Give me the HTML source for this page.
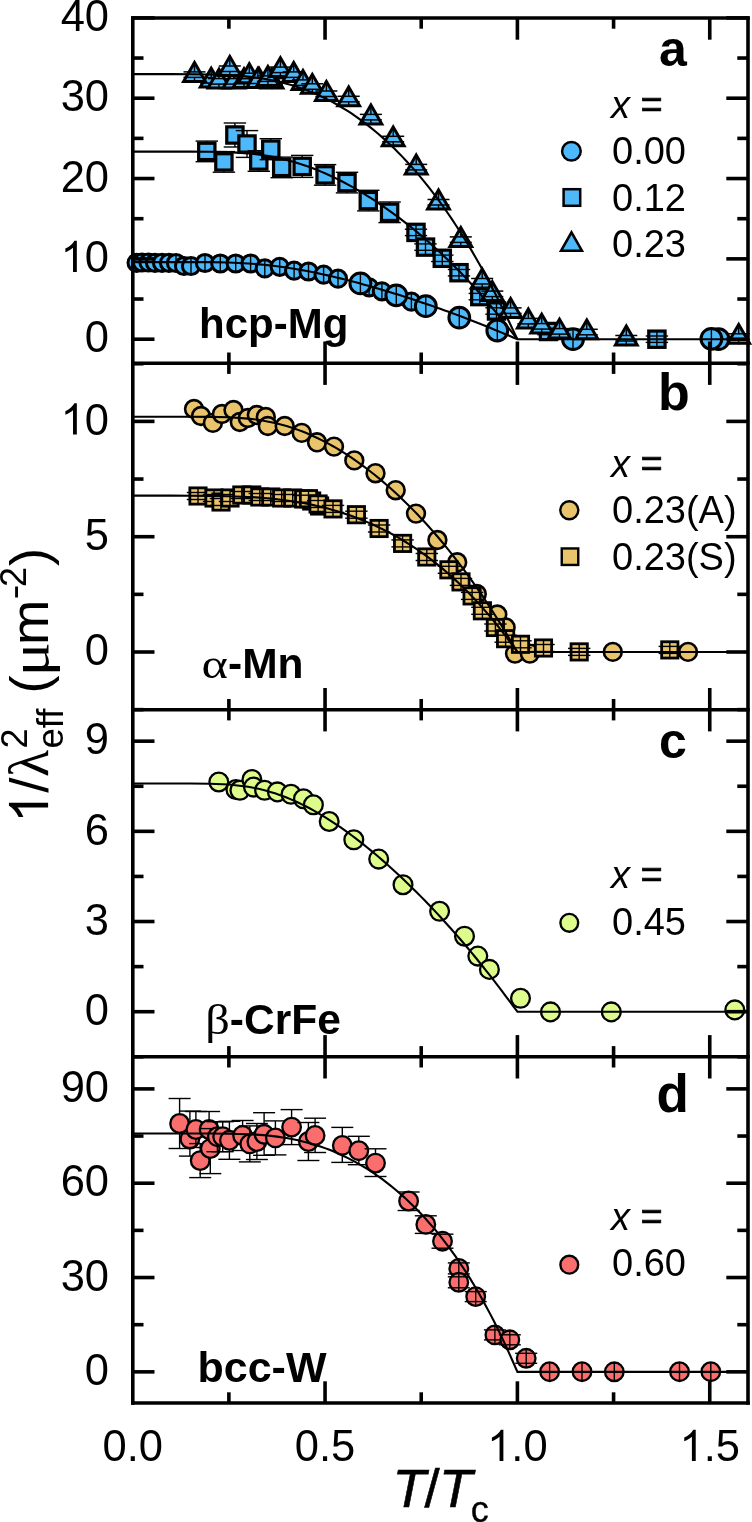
<!DOCTYPE html>
<html><head><meta charset="utf-8"><title>Figure</title><style>html,body{margin:0;padding:0;background:#fff;width:752px;height:1522px;overflow:hidden}</style></head><body>
<svg width="752" height="1522" viewBox="0 0 752 1522" style="display:block;will-change:transform">
<rect width="752" height="1522" fill="#fff"/>
<circle cx="136.6" cy="262.8" r="8.6" fill="#4DB9FA" stroke="#000" stroke-width="3"/><line x1="136.6" y1="254.2" x2="136.6" y2="271.4" stroke="#000" stroke-width="1.4"/><circle cx="142" cy="262.5" r="8.6" fill="#4DB9FA" stroke="#000" stroke-width="3"/><line x1="142" y1="253.9" x2="142" y2="271.1" stroke="#000" stroke-width="1.4"/><circle cx="148.5" cy="262.5" r="8.6" fill="#4DB9FA" stroke="#000" stroke-width="3"/><line x1="148.5" y1="253.9" x2="148.5" y2="271.1" stroke="#000" stroke-width="1.4"/><circle cx="155" cy="262.8" r="8.6" fill="#4DB9FA" stroke="#000" stroke-width="3"/><line x1="155" y1="254.2" x2="155" y2="271.4" stroke="#000" stroke-width="1.4"/><circle cx="162" cy="262.8" r="8.6" fill="#4DB9FA" stroke="#000" stroke-width="3"/><line x1="162" y1="254.2" x2="162" y2="271.4" stroke="#000" stroke-width="1.4"/><circle cx="169" cy="262.8" r="8.6" fill="#4DB9FA" stroke="#000" stroke-width="3"/><line x1="169" y1="254.2" x2="169" y2="271.4" stroke="#000" stroke-width="1.4"/><circle cx="176" cy="263" r="8.6" fill="#4DB9FA" stroke="#000" stroke-width="3"/><line x1="176" y1="254.4" x2="176" y2="271.6" stroke="#000" stroke-width="1.4"/><circle cx="184" cy="266" r="8.6" fill="#4DB9FA" stroke="#000" stroke-width="3"/><line x1="184" y1="257.4" x2="184" y2="274.6" stroke="#000" stroke-width="1.4"/><circle cx="191" cy="266" r="8.6" fill="#4DB9FA" stroke="#000" stroke-width="3"/><line x1="191" y1="257.4" x2="191" y2="274.6" stroke="#000" stroke-width="1.4"/><circle cx="205" cy="263" r="8.6" fill="#4DB9FA" stroke="#000" stroke-width="3"/><line x1="205" y1="254.4" x2="205" y2="271.6" stroke="#000" stroke-width="1.4"/><circle cx="220.3" cy="263.5" r="8.6" fill="#4DB9FA" stroke="#000" stroke-width="3"/><line x1="220.3" y1="254.9" x2="220.3" y2="272.1" stroke="#000" stroke-width="1.4"/><circle cx="235.7" cy="263.5" r="8.6" fill="#4DB9FA" stroke="#000" stroke-width="3"/><line x1="235.7" y1="254.9" x2="235.7" y2="272.1" stroke="#000" stroke-width="1.4"/><circle cx="250.6" cy="263.5" r="8.6" fill="#4DB9FA" stroke="#000" stroke-width="3"/><line x1="250.6" y1="254.9" x2="250.6" y2="272.1" stroke="#000" stroke-width="1.4"/><circle cx="264.8" cy="268.4" r="8.6" fill="#4DB9FA" stroke="#000" stroke-width="3"/><line x1="264.8" y1="259.8" x2="264.8" y2="277" stroke="#000" stroke-width="1.4"/><circle cx="279.7" cy="266.8" r="8.6" fill="#4DB9FA" stroke="#000" stroke-width="3"/><line x1="279.7" y1="258.2" x2="279.7" y2="275.4" stroke="#000" stroke-width="1.4"/><circle cx="294.1" cy="270.7" r="8.6" fill="#4DB9FA" stroke="#000" stroke-width="3"/><line x1="294.1" y1="262.1" x2="294.1" y2="279.3" stroke="#000" stroke-width="1.4"/><circle cx="308.5" cy="271.5" r="8.6" fill="#4DB9FA" stroke="#000" stroke-width="3"/><line x1="308.5" y1="262.9" x2="308.5" y2="280.1" stroke="#000" stroke-width="1.4"/><circle cx="323.6" cy="274.7" r="8.6" fill="#4DB9FA" stroke="#000" stroke-width="3"/><line x1="323.6" y1="266.1" x2="323.6" y2="283.3" stroke="#000" stroke-width="1.4"/><circle cx="338" cy="278.7" r="8.6" fill="#4DB9FA" stroke="#000" stroke-width="3"/><line x1="338" y1="270.1" x2="338" y2="287.3" stroke="#000" stroke-width="1.4"/><circle cx="369.1" cy="287.3" r="8.6" fill="#4DB9FA" stroke="#000" stroke-width="3"/><line x1="369.1" y1="278.7" x2="369.1" y2="295.9" stroke="#000" stroke-width="1.4"/><circle cx="381.9" cy="291.3" r="8.6" fill="#4DB9FA" stroke="#000" stroke-width="3"/><line x1="381.9" y1="282.7" x2="381.9" y2="299.9" stroke="#000" stroke-width="1.4"/><circle cx="411.4" cy="301.7" r="8.6" fill="#4DB9FA" stroke="#000" stroke-width="3"/><line x1="411.4" y1="293.1" x2="411.4" y2="310.3" stroke="#000" stroke-width="1.4"/><circle cx="360.4" cy="283.4" r="10.4" fill="#4DB9FA" stroke="#000" stroke-width="3"/><line x1="360.4" y1="273" x2="360.4" y2="293.8" stroke="#000" stroke-width="1.4"/><circle cx="396.3" cy="295.3" r="10.4" fill="#4DB9FA" stroke="#000" stroke-width="3"/><line x1="396.3" y1="284.9" x2="396.3" y2="305.7" stroke="#000" stroke-width="1.4"/><circle cx="425.8" cy="306.2" r="10.4" fill="#4DB9FA" stroke="#000" stroke-width="3"/><line x1="425.8" y1="295.8" x2="425.8" y2="316.6" stroke="#000" stroke-width="1.4"/><circle cx="459.3" cy="317.6" r="10.4" fill="#4DB9FA" stroke="#000" stroke-width="3"/><line x1="459.3" y1="307.2" x2="459.3" y2="328" stroke="#000" stroke-width="1.4"/><circle cx="497.3" cy="330.5" r="10.4" fill="#4DB9FA" stroke="#000" stroke-width="3"/><line x1="497.3" y1="320.1" x2="497.3" y2="340.9" stroke="#000" stroke-width="1.4"/><circle cx="573" cy="339.2" r="10.4" fill="#4DB9FA" stroke="#000" stroke-width="3"/><line x1="573" y1="328.8" x2="573" y2="349.6" stroke="#000" stroke-width="1.4"/><circle cx="718.5" cy="339.2" r="10.4" fill="#4DB9FA" stroke="#000" stroke-width="3"/><line x1="718.5" y1="328.8" x2="718.5" y2="349.6" stroke="#000" stroke-width="1.4"/><circle cx="711.4" cy="338.8" r="10.4" fill="#4DB9FA" stroke="#000" stroke-width="3"/><line x1="711.4" y1="328.4" x2="711.4" y2="349.2" stroke="#000" stroke-width="1.4"/><rect x="198.65" y="143.25" width="16.3" height="16.3" fill="#4DB9FA" stroke="#000" stroke-width="3.2"/><line x1="206.8" y1="141.1" x2="206.8" y2="143.25" stroke="#000" stroke-width="1.4"/><line x1="206.8" y1="159.55" x2="206.8" y2="161.7" stroke="#000" stroke-width="1.4"/><line x1="195.6" y1="141.1" x2="218" y2="141.1" stroke="#000" stroke-width="1.4"/><line x1="195.6" y1="161.7" x2="218" y2="161.7" stroke="#000" stroke-width="1.4"/><rect x="215.75" y="153.75" width="16.3" height="16.3" fill="#4DB9FA" stroke="#000" stroke-width="3.2"/><line x1="223.9" y1="151.6" x2="223.9" y2="153.75" stroke="#000" stroke-width="1.4"/><line x1="223.9" y1="170.05" x2="223.9" y2="172.2" stroke="#000" stroke-width="1.4"/><line x1="212.7" y1="151.6" x2="235.1" y2="151.6" stroke="#000" stroke-width="1.4"/><line x1="212.7" y1="172.2" x2="235.1" y2="172.2" stroke="#000" stroke-width="1.4"/><rect x="226.75" y="126.85" width="16.3" height="16.3" fill="#4DB9FA" stroke="#000" stroke-width="3.2"/><line x1="234.9" y1="123" x2="234.9" y2="126.85" stroke="#000" stroke-width="1.4"/><line x1="234.9" y1="143.15" x2="234.9" y2="147" stroke="#000" stroke-width="1.4"/><line x1="223.7" y1="123" x2="246.1" y2="123" stroke="#000" stroke-width="1.4"/><line x1="223.7" y1="147" x2="246.1" y2="147" stroke="#000" stroke-width="1.4"/><rect x="238.85" y="135.85" width="16.3" height="16.3" fill="#4DB9FA" stroke="#000" stroke-width="3.2"/><line x1="247" y1="130.6" x2="247" y2="135.85" stroke="#000" stroke-width="1.4"/><line x1="247" y1="152.15" x2="247" y2="157.4" stroke="#000" stroke-width="1.4"/><line x1="235.8" y1="130.6" x2="258.2" y2="130.6" stroke="#000" stroke-width="1.4"/><line x1="235.8" y1="157.4" x2="258.2" y2="157.4" stroke="#000" stroke-width="1.4"/><rect x="250.65" y="152.85" width="16.3" height="16.3" fill="#4DB9FA" stroke="#000" stroke-width="3.2"/><line x1="258.8" y1="150.7" x2="258.8" y2="152.85" stroke="#000" stroke-width="1.4"/><line x1="258.8" y1="169.15" x2="258.8" y2="171.3" stroke="#000" stroke-width="1.4"/><line x1="247.6" y1="150.7" x2="270" y2="150.7" stroke="#000" stroke-width="1.4"/><line x1="247.6" y1="171.3" x2="270" y2="171.3" stroke="#000" stroke-width="1.4"/><rect x="262.65" y="141.05" width="16.3" height="16.3" fill="#4DB9FA" stroke="#000" stroke-width="3.2"/><line x1="270.8" y1="138.7" x2="270.8" y2="141.05" stroke="#000" stroke-width="1.4"/><line x1="270.8" y1="157.35" x2="270.8" y2="159.7" stroke="#000" stroke-width="1.4"/><line x1="259.6" y1="138.7" x2="282" y2="138.7" stroke="#000" stroke-width="1.4"/><line x1="259.6" y1="159.7" x2="282" y2="159.7" stroke="#000" stroke-width="1.4"/><rect x="273.55" y="159.25" width="16.3" height="16.3" fill="#4DB9FA" stroke="#000" stroke-width="3.2"/><line x1="281.7" y1="157.1" x2="281.7" y2="159.25" stroke="#000" stroke-width="1.4"/><line x1="281.7" y1="175.55" x2="281.7" y2="177.7" stroke="#000" stroke-width="1.4"/><line x1="270.5" y1="157.1" x2="292.9" y2="157.1" stroke="#000" stroke-width="1.4"/><line x1="270.5" y1="177.7" x2="292.9" y2="177.7" stroke="#000" stroke-width="1.4"/><rect x="294.05" y="158.25" width="16.3" height="16.3" fill="#4DB9FA" stroke="#000" stroke-width="3.2"/><line x1="302.2" y1="155.4" x2="302.2" y2="158.25" stroke="#000" stroke-width="1.4"/><line x1="302.2" y1="174.55" x2="302.2" y2="177.4" stroke="#000" stroke-width="1.4"/><line x1="291" y1="155.4" x2="313.4" y2="155.4" stroke="#000" stroke-width="1.4"/><line x1="291" y1="177.4" x2="313.4" y2="177.4" stroke="#000" stroke-width="1.4"/><rect x="316.95" y="166.75" width="16.3" height="16.3" fill="#4DB9FA" stroke="#000" stroke-width="3.2"/><line x1="325.1" y1="164.6" x2="325.1" y2="166.75" stroke="#000" stroke-width="1.4"/><line x1="325.1" y1="183.05" x2="325.1" y2="185.2" stroke="#000" stroke-width="1.4"/><line x1="313.9" y1="164.6" x2="336.3" y2="164.6" stroke="#000" stroke-width="1.4"/><line x1="313.9" y1="185.2" x2="336.3" y2="185.2" stroke="#000" stroke-width="1.4"/><rect x="338.85" y="174.45" width="16.3" height="16.3" fill="#4DB9FA" stroke="#000" stroke-width="3.2"/><line x1="347" y1="172.3" x2="347" y2="174.45" stroke="#000" stroke-width="1.4"/><line x1="347" y1="190.75" x2="347" y2="192.9" stroke="#000" stroke-width="1.4"/><line x1="335.8" y1="172.3" x2="358.2" y2="172.3" stroke="#000" stroke-width="1.4"/><line x1="335.8" y1="192.9" x2="358.2" y2="192.9" stroke="#000" stroke-width="1.4"/><rect x="360.15" y="192.45" width="16.3" height="16.3" fill="#4DB9FA" stroke="#000" stroke-width="3.2"/><line x1="368.3" y1="190.3" x2="368.3" y2="192.45" stroke="#000" stroke-width="1.4"/><line x1="368.3" y1="208.75" x2="368.3" y2="210.9" stroke="#000" stroke-width="1.4"/><line x1="357.1" y1="190.3" x2="379.5" y2="190.3" stroke="#000" stroke-width="1.4"/><line x1="357.1" y1="210.9" x2="379.5" y2="210.9" stroke="#000" stroke-width="1.4"/><rect x="381.45" y="204.15" width="16.3" height="16.3" fill="#4DB9FA" stroke="#000" stroke-width="3.2"/><line x1="389.6" y1="202" x2="389.6" y2="204.15" stroke="#000" stroke-width="1.4"/><line x1="389.6" y1="220.45" x2="389.6" y2="222.6" stroke="#000" stroke-width="1.4"/><line x1="378.4" y1="202" x2="400.8" y2="202" stroke="#000" stroke-width="1.4"/><line x1="378.4" y1="222.6" x2="400.8" y2="222.6" stroke="#000" stroke-width="1.4"/><rect x="407.85" y="224.25" width="16.3" height="16.3" fill="#4DB9FA" stroke="#000" stroke-width="3.2"/><line x1="416" y1="224.25" x2="416" y2="240.55" stroke="#000" stroke-width="1.4"/><line x1="404.8" y1="229.2" x2="427.2" y2="229.2" stroke="#000" stroke-width="1.4"/><line x1="404.8" y1="235.6" x2="427.2" y2="235.6" stroke="#000" stroke-width="1.4"/><rect x="417.35" y="238.95" width="16.3" height="16.3" fill="#4DB9FA" stroke="#000" stroke-width="3.2"/><line x1="425.5" y1="238.95" x2="425.5" y2="255.25" stroke="#000" stroke-width="1.4"/><line x1="414.3" y1="243.9" x2="436.7" y2="243.9" stroke="#000" stroke-width="1.4"/><line x1="414.3" y1="250.3" x2="436.7" y2="250.3" stroke="#000" stroke-width="1.4"/><rect x="434.15" y="250.15" width="16.3" height="16.3" fill="#4DB9FA" stroke="#000" stroke-width="3.2"/><line x1="442.3" y1="250.15" x2="442.3" y2="266.45" stroke="#000" stroke-width="1.4"/><line x1="431.1" y1="255.1" x2="453.5" y2="255.1" stroke="#000" stroke-width="1.4"/><line x1="431.1" y1="261.5" x2="453.5" y2="261.5" stroke="#000" stroke-width="1.4"/><rect x="450.85" y="264.55" width="16.3" height="16.3" fill="#4DB9FA" stroke="#000" stroke-width="3.2"/><line x1="459" y1="264.55" x2="459" y2="280.85" stroke="#000" stroke-width="1.4"/><line x1="447.8" y1="269.5" x2="470.2" y2="269.5" stroke="#000" stroke-width="1.4"/><line x1="447.8" y1="275.9" x2="470.2" y2="275.9" stroke="#000" stroke-width="1.4"/><rect x="471.65" y="288.45" width="16.3" height="16.3" fill="#4DB9FA" stroke="#000" stroke-width="3.2"/><line x1="479.8" y1="288.45" x2="479.8" y2="304.75" stroke="#000" stroke-width="1.4"/><line x1="468.6" y1="293.4" x2="491" y2="293.4" stroke="#000" stroke-width="1.4"/><line x1="468.6" y1="299.8" x2="491" y2="299.8" stroke="#000" stroke-width="1.4"/><rect x="488.35" y="302.85" width="16.3" height="16.3" fill="#4DB9FA" stroke="#000" stroke-width="3.2"/><line x1="496.5" y1="302.85" x2="496.5" y2="319.15" stroke="#000" stroke-width="1.4"/><line x1="485.3" y1="307.8" x2="507.7" y2="307.8" stroke="#000" stroke-width="1.4"/><line x1="485.3" y1="314.2" x2="507.7" y2="314.2" stroke="#000" stroke-width="1.4"/><rect x="540.35" y="323.35" width="16.3" height="16.3" fill="#4DB9FA" stroke="#000" stroke-width="3.2"/><line x1="548.5" y1="323.35" x2="548.5" y2="339.65" stroke="#000" stroke-width="1.4"/><line x1="537.3" y1="328.3" x2="559.7" y2="328.3" stroke="#000" stroke-width="1.4"/><line x1="537.3" y1="334.7" x2="559.7" y2="334.7" stroke="#000" stroke-width="1.4"/><rect x="648.75" y="331.05" width="16.3" height="16.3" fill="#4DB9FA" stroke="#000" stroke-width="3.2"/><line x1="656.9" y1="331.05" x2="656.9" y2="347.35" stroke="#000" stroke-width="1.4"/><line x1="645.7" y1="336" x2="668.1" y2="336" stroke="#000" stroke-width="1.4"/><line x1="645.7" y1="342.4" x2="668.1" y2="342.4" stroke="#000" stroke-width="1.4"/><path d="M211.2 68.2L222.1 87.08L200.3 87.08Z" fill="#4DB9FA" stroke="#000" stroke-width="3" stroke-linejoin="miter"/><line x1="211.2" y1="71.29" x2="211.2" y2="77.79" stroke="#000" stroke-width="1.4"/><line x1="211.2" y1="82.79" x2="211.2" y2="88.29" stroke="#000" stroke-width="1.4"/><line x1="200.2" y1="77.59" x2="222.2" y2="77.59" stroke="#000" stroke-width="1.5"/><line x1="200.2" y1="83.09" x2="222.2" y2="83.09" stroke="#000" stroke-width="1.5"/><path d="M219 69.2L229.9 88.08L208.1 88.08Z" fill="#4DB9FA" stroke="#000" stroke-width="3" stroke-linejoin="miter"/><line x1="219" y1="72.29" x2="219" y2="78.79" stroke="#000" stroke-width="1.4"/><line x1="219" y1="83.79" x2="219" y2="89.29" stroke="#000" stroke-width="1.4"/><line x1="208" y1="78.59" x2="230" y2="78.59" stroke="#000" stroke-width="1.5"/><line x1="208" y1="84.09" x2="230" y2="84.09" stroke="#000" stroke-width="1.5"/><path d="M234 69.2L244.9 88.08L223.1 88.08Z" fill="#4DB9FA" stroke="#000" stroke-width="3" stroke-linejoin="miter"/><line x1="234" y1="72.29" x2="234" y2="78.79" stroke="#000" stroke-width="1.4"/><line x1="234" y1="83.79" x2="234" y2="89.29" stroke="#000" stroke-width="1.4"/><line x1="223" y1="78.59" x2="245" y2="78.59" stroke="#000" stroke-width="1.5"/><line x1="223" y1="84.09" x2="245" y2="84.09" stroke="#000" stroke-width="1.5"/><path d="M244 68.7L254.9 87.58L233.1 87.58Z" fill="#4DB9FA" stroke="#000" stroke-width="3" stroke-linejoin="miter"/><line x1="244" y1="71.79" x2="244" y2="78.29" stroke="#000" stroke-width="1.4"/><line x1="244" y1="83.29" x2="244" y2="88.79" stroke="#000" stroke-width="1.4"/><line x1="233" y1="78.09" x2="255" y2="78.09" stroke="#000" stroke-width="1.5"/><line x1="233" y1="83.59" x2="255" y2="83.59" stroke="#000" stroke-width="1.5"/><path d="M259 68.2L269.9 87.08L248.1 87.08Z" fill="#4DB9FA" stroke="#000" stroke-width="3" stroke-linejoin="miter"/><line x1="259" y1="71.29" x2="259" y2="77.79" stroke="#000" stroke-width="1.4"/><line x1="259" y1="82.79" x2="259" y2="88.29" stroke="#000" stroke-width="1.4"/><line x1="248" y1="77.59" x2="270" y2="77.59" stroke="#000" stroke-width="1.5"/><line x1="248" y1="83.09" x2="270" y2="83.09" stroke="#000" stroke-width="1.5"/><path d="M272 69.2L282.9 88.08L261.1 88.08Z" fill="#4DB9FA" stroke="#000" stroke-width="3" stroke-linejoin="miter"/><line x1="272" y1="72.29" x2="272" y2="78.79" stroke="#000" stroke-width="1.4"/><line x1="272" y1="83.79" x2="272" y2="89.29" stroke="#000" stroke-width="1.4"/><line x1="261" y1="78.59" x2="283" y2="78.59" stroke="#000" stroke-width="1.5"/><line x1="261" y1="84.09" x2="283" y2="84.09" stroke="#000" stroke-width="1.5"/><path d="M194.5 62.5L205.4 81.38L183.6 81.38Z" fill="#4DB9FA" stroke="#000" stroke-width="3" stroke-linejoin="miter"/><line x1="194.5" y1="65.59" x2="194.5" y2="72.09" stroke="#000" stroke-width="1.4"/><line x1="194.5" y1="77.09" x2="194.5" y2="82.59" stroke="#000" stroke-width="1.4"/><line x1="183.5" y1="71.89" x2="205.5" y2="71.89" stroke="#000" stroke-width="1.5"/><line x1="183.5" y1="77.39" x2="205.5" y2="77.39" stroke="#000" stroke-width="1.5"/><path d="M229.8 56.6L240.7 75.48L218.9 75.48Z" fill="#4DB9FA" stroke="#000" stroke-width="3" stroke-linejoin="miter"/><line x1="229.8" y1="59.69" x2="229.8" y2="66.19" stroke="#000" stroke-width="1.4"/><line x1="229.8" y1="71.19" x2="229.8" y2="76.69" stroke="#000" stroke-width="1.4"/><line x1="218.8" y1="65.99" x2="240.8" y2="65.99" stroke="#000" stroke-width="1.5"/><line x1="218.8" y1="71.49" x2="240.8" y2="71.49" stroke="#000" stroke-width="1.5"/><path d="M249.3 63.8L260.2 82.68L238.4 82.68Z" fill="#4DB9FA" stroke="#000" stroke-width="3" stroke-linejoin="miter"/><line x1="249.3" y1="66.89" x2="249.3" y2="73.39" stroke="#000" stroke-width="1.4"/><line x1="249.3" y1="78.39" x2="249.3" y2="83.89" stroke="#000" stroke-width="1.4"/><line x1="238.3" y1="73.19" x2="260.3" y2="73.19" stroke="#000" stroke-width="1.5"/><line x1="238.3" y1="78.69" x2="260.3" y2="78.69" stroke="#000" stroke-width="1.5"/><path d="M257.8 68.6L268.7 87.48L246.9 87.48Z" fill="#4DB9FA" stroke="#000" stroke-width="3" stroke-linejoin="miter"/><line x1="257.8" y1="71.69" x2="257.8" y2="78.19" stroke="#000" stroke-width="1.4"/><line x1="257.8" y1="83.19" x2="257.8" y2="88.69" stroke="#000" stroke-width="1.4"/><line x1="246.8" y1="77.99" x2="268.8" y2="77.99" stroke="#000" stroke-width="1.5"/><line x1="246.8" y1="83.49" x2="268.8" y2="83.49" stroke="#000" stroke-width="1.5"/><path d="M267.9 66.5L278.8 85.38L257 85.38Z" fill="#4DB9FA" stroke="#000" stroke-width="3" stroke-linejoin="miter"/><line x1="267.9" y1="69.59" x2="267.9" y2="76.09" stroke="#000" stroke-width="1.4"/><line x1="267.9" y1="81.09" x2="267.9" y2="86.59" stroke="#000" stroke-width="1.4"/><line x1="256.9" y1="75.89" x2="278.9" y2="75.89" stroke="#000" stroke-width="1.5"/><line x1="256.9" y1="81.39" x2="278.9" y2="81.39" stroke="#000" stroke-width="1.5"/><path d="M280.4 57.7L291.3 76.58L269.5 76.58Z" fill="#4DB9FA" stroke="#000" stroke-width="3" stroke-linejoin="miter"/><line x1="280.4" y1="60.79" x2="280.4" y2="67.29" stroke="#000" stroke-width="1.4"/><line x1="280.4" y1="72.29" x2="280.4" y2="77.79" stroke="#000" stroke-width="1.4"/><line x1="269.4" y1="67.09" x2="291.4" y2="67.09" stroke="#000" stroke-width="1.5"/><line x1="269.4" y1="72.59" x2="291.4" y2="72.59" stroke="#000" stroke-width="1.5"/><path d="M293.7 62.5L304.6 81.38L282.8 81.38Z" fill="#4DB9FA" stroke="#000" stroke-width="3" stroke-linejoin="miter"/><line x1="293.7" y1="65.59" x2="293.7" y2="72.09" stroke="#000" stroke-width="1.4"/><line x1="293.7" y1="77.09" x2="293.7" y2="82.59" stroke="#000" stroke-width="1.4"/><line x1="282.7" y1="71.89" x2="304.7" y2="71.89" stroke="#000" stroke-width="1.5"/><line x1="282.7" y1="77.39" x2="304.7" y2="77.39" stroke="#000" stroke-width="1.5"/><path d="M303 70.5L313.9 89.38L292.1 89.38Z" fill="#4DB9FA" stroke="#000" stroke-width="3" stroke-linejoin="miter"/><line x1="303" y1="73.59" x2="303" y2="80.09" stroke="#000" stroke-width="1.4"/><line x1="303" y1="85.09" x2="303" y2="90.59" stroke="#000" stroke-width="1.4"/><line x1="292" y1="79.89" x2="314" y2="79.89" stroke="#000" stroke-width="1.5"/><line x1="292" y1="85.39" x2="314" y2="85.39" stroke="#000" stroke-width="1.5"/><path d="M312.3 74.4L323.2 93.28L301.4 93.28Z" fill="#4DB9FA" stroke="#000" stroke-width="3" stroke-linejoin="miter"/><line x1="312.3" y1="77.49" x2="312.3" y2="83.99" stroke="#000" stroke-width="1.4"/><line x1="312.3" y1="88.99" x2="312.3" y2="94.49" stroke="#000" stroke-width="1.4"/><line x1="301.3" y1="83.79" x2="323.3" y2="83.79" stroke="#000" stroke-width="1.5"/><line x1="301.3" y1="89.29" x2="323.3" y2="89.29" stroke="#000" stroke-width="1.5"/><path d="M326.4 81.6L337.3 100.48L315.5 100.48Z" fill="#4DB9FA" stroke="#000" stroke-width="3" stroke-linejoin="miter"/><line x1="326.4" y1="84.69" x2="326.4" y2="91.19" stroke="#000" stroke-width="1.4"/><line x1="326.4" y1="96.19" x2="326.4" y2="101.69" stroke="#000" stroke-width="1.4"/><line x1="315.4" y1="90.99" x2="337.4" y2="90.99" stroke="#000" stroke-width="1.5"/><line x1="315.4" y1="96.49" x2="337.4" y2="96.49" stroke="#000" stroke-width="1.5"/><path d="M348.7 86.9L359.6 105.78L337.8 105.78Z" fill="#4DB9FA" stroke="#000" stroke-width="3" stroke-linejoin="miter"/><line x1="348.7" y1="89.99" x2="348.7" y2="96.49" stroke="#000" stroke-width="1.4"/><line x1="348.7" y1="101.49" x2="348.7" y2="106.99" stroke="#000" stroke-width="1.4"/><line x1="337.7" y1="96.29" x2="359.7" y2="96.29" stroke="#000" stroke-width="1.5"/><line x1="337.7" y1="101.79" x2="359.7" y2="101.79" stroke="#000" stroke-width="1.5"/><path d="M370.9 105L381.8 123.88L360 123.88Z" fill="#4DB9FA" stroke="#000" stroke-width="3" stroke-linejoin="miter"/><line x1="370.9" y1="108.09" x2="370.9" y2="114.59" stroke="#000" stroke-width="1.4"/><line x1="370.9" y1="119.59" x2="370.9" y2="125.09" stroke="#000" stroke-width="1.4"/><line x1="359.9" y1="114.39" x2="381.9" y2="114.39" stroke="#000" stroke-width="1.5"/><line x1="359.9" y1="119.89" x2="381.9" y2="119.89" stroke="#000" stroke-width="1.5"/><path d="M393.2 126.9L404.1 145.78L382.3 145.78Z" fill="#4DB9FA" stroke="#000" stroke-width="3" stroke-linejoin="miter"/><line x1="393.2" y1="129.99" x2="393.2" y2="136.49" stroke="#000" stroke-width="1.4"/><line x1="393.2" y1="141.49" x2="393.2" y2="146.99" stroke="#000" stroke-width="1.4"/><line x1="382.2" y1="136.29" x2="404.2" y2="136.29" stroke="#000" stroke-width="1.5"/><line x1="382.2" y1="141.79" x2="404.2" y2="141.79" stroke="#000" stroke-width="1.5"/><path d="M416.2 155L427.1 173.88L405.3 173.88Z" fill="#4DB9FA" stroke="#000" stroke-width="3" stroke-linejoin="miter"/><line x1="416.2" y1="158.09" x2="416.2" y2="164.59" stroke="#000" stroke-width="1.4"/><line x1="416.2" y1="169.59" x2="416.2" y2="175.09" stroke="#000" stroke-width="1.4"/><line x1="405.2" y1="164.39" x2="427.2" y2="164.39" stroke="#000" stroke-width="1.5"/><line x1="405.2" y1="169.89" x2="427.2" y2="169.89" stroke="#000" stroke-width="1.5"/><path d="M438.5 190.1L449.4 208.98L427.6 208.98Z" fill="#4DB9FA" stroke="#000" stroke-width="3" stroke-linejoin="miter"/><line x1="438.5" y1="193.19" x2="438.5" y2="199.69" stroke="#000" stroke-width="1.4"/><line x1="438.5" y1="204.69" x2="438.5" y2="210.19" stroke="#000" stroke-width="1.4"/><line x1="427.5" y1="199.49" x2="449.5" y2="199.49" stroke="#000" stroke-width="1.5"/><line x1="427.5" y1="204.99" x2="449.5" y2="204.99" stroke="#000" stroke-width="1.5"/><path d="M460.8 227.5L471.7 246.38L449.9 246.38Z" fill="#4DB9FA" stroke="#000" stroke-width="3" stroke-linejoin="miter"/><line x1="460.8" y1="230.59" x2="460.8" y2="237.09" stroke="#000" stroke-width="1.4"/><line x1="460.8" y1="242.09" x2="460.8" y2="247.59" stroke="#000" stroke-width="1.4"/><line x1="449.8" y1="236.89" x2="471.8" y2="236.89" stroke="#000" stroke-width="1.5"/><line x1="449.8" y1="242.39" x2="471.8" y2="242.39" stroke="#000" stroke-width="1.5"/><path d="M482.2 269.1L493.1 287.98L471.3 287.98Z" fill="#4DB9FA" stroke="#000" stroke-width="3" stroke-linejoin="miter"/><line x1="482.2" y1="272.19" x2="482.2" y2="278.69" stroke="#000" stroke-width="1.4"/><line x1="482.2" y1="283.69" x2="482.2" y2="289.19" stroke="#000" stroke-width="1.4"/><line x1="471.2" y1="278.49" x2="493.2" y2="278.49" stroke="#000" stroke-width="1.5"/><line x1="471.2" y1="283.99" x2="493.2" y2="283.99" stroke="#000" stroke-width="1.5"/><path d="M492.3 281.7L503.2 300.58L481.4 300.58Z" fill="#4DB9FA" stroke="#000" stroke-width="3" stroke-linejoin="miter"/><line x1="492.3" y1="284.79" x2="492.3" y2="291.29" stroke="#000" stroke-width="1.4"/><line x1="492.3" y1="296.29" x2="492.3" y2="301.79" stroke="#000" stroke-width="1.4"/><line x1="481.3" y1="291.09" x2="503.3" y2="291.09" stroke="#000" stroke-width="1.5"/><line x1="481.3" y1="296.59" x2="503.3" y2="296.59" stroke="#000" stroke-width="1.5"/><path d="M510.6 298.5L521.5 317.38L499.7 317.38Z" fill="#4DB9FA" stroke="#000" stroke-width="3" stroke-linejoin="miter"/><line x1="510.6" y1="301.59" x2="510.6" y2="308.09" stroke="#000" stroke-width="1.4"/><line x1="510.6" y1="313.09" x2="510.6" y2="318.59" stroke="#000" stroke-width="1.4"/><line x1="499.6" y1="307.89" x2="521.6" y2="307.89" stroke="#000" stroke-width="1.5"/><line x1="499.6" y1="313.39" x2="521.6" y2="313.39" stroke="#000" stroke-width="1.5"/><path d="M528.3 309L539.2 327.88L517.4 327.88Z" fill="#4DB9FA" stroke="#000" stroke-width="3" stroke-linejoin="miter"/><line x1="528.3" y1="312.09" x2="528.3" y2="318.59" stroke="#000" stroke-width="1.4"/><line x1="528.3" y1="323.59" x2="528.3" y2="329.09" stroke="#000" stroke-width="1.4"/><line x1="517.3" y1="318.39" x2="539.3" y2="318.39" stroke="#000" stroke-width="1.5"/><line x1="517.3" y1="323.89" x2="539.3" y2="323.89" stroke="#000" stroke-width="1.5"/><path d="M541.7 314.2L552.6 333.08L530.8 333.08Z" fill="#4DB9FA" stroke="#000" stroke-width="3" stroke-linejoin="miter"/><line x1="541.7" y1="317.29" x2="541.7" y2="323.79" stroke="#000" stroke-width="1.4"/><line x1="541.7" y1="328.79" x2="541.7" y2="334.29" stroke="#000" stroke-width="1.4"/><line x1="530.7" y1="323.59" x2="552.7" y2="323.59" stroke="#000" stroke-width="1.5"/><line x1="530.7" y1="329.09" x2="552.7" y2="329.09" stroke="#000" stroke-width="1.5"/><path d="M559.5 319.2L570.4 338.08L548.6 338.08Z" fill="#4DB9FA" stroke="#000" stroke-width="3" stroke-linejoin="miter"/><line x1="559.5" y1="322.29" x2="559.5" y2="328.79" stroke="#000" stroke-width="1.4"/><line x1="559.5" y1="333.79" x2="559.5" y2="339.29" stroke="#000" stroke-width="1.4"/><line x1="548.5" y1="328.59" x2="570.5" y2="328.59" stroke="#000" stroke-width="1.5"/><line x1="548.5" y1="334.09" x2="570.5" y2="334.09" stroke="#000" stroke-width="1.5"/><path d="M586.8 319.9L597.7 338.78L575.9 338.78Z" fill="#4DB9FA" stroke="#000" stroke-width="3" stroke-linejoin="miter"/><line x1="586.8" y1="322.99" x2="586.8" y2="329.49" stroke="#000" stroke-width="1.4"/><line x1="586.8" y1="334.49" x2="586.8" y2="339.99" stroke="#000" stroke-width="1.4"/><line x1="575.8" y1="329.29" x2="597.8" y2="329.29" stroke="#000" stroke-width="1.5"/><line x1="575.8" y1="334.79" x2="597.8" y2="334.79" stroke="#000" stroke-width="1.5"/><path d="M626.3 326.1L637.2 344.98L615.4 344.98Z" fill="#4DB9FA" stroke="#000" stroke-width="3" stroke-linejoin="miter"/><line x1="626.3" y1="329.19" x2="626.3" y2="335.69" stroke="#000" stroke-width="1.4"/><line x1="626.3" y1="340.69" x2="626.3" y2="346.19" stroke="#000" stroke-width="1.4"/><line x1="615.3" y1="335.49" x2="637.3" y2="335.49" stroke="#000" stroke-width="1.5"/><line x1="615.3" y1="340.99" x2="637.3" y2="340.99" stroke="#000" stroke-width="1.5"/><path d="M738.7 324.4L749.6 343.28L727.8 343.28Z" fill="#4DB9FA" stroke="#000" stroke-width="3" stroke-linejoin="miter"/><line x1="738.7" y1="327.49" x2="738.7" y2="333.99" stroke="#000" stroke-width="1.4"/><line x1="738.7" y1="338.99" x2="738.7" y2="344.49" stroke="#000" stroke-width="1.4"/><line x1="727.7" y1="333.79" x2="749.7" y2="333.79" stroke="#000" stroke-width="1.5"/><line x1="727.7" y1="339.29" x2="749.7" y2="339.29" stroke="#000" stroke-width="1.5"/>
<path d="M133.8 262.08 L151.94 262.08 L171.17 262.08 L190.4 262.09 L209.64 262.17 L228.87 262.53 L248.11 263.45 L251.96 263.72 L255.8 264.02 L259.64 264.35 L263.48 264.72 L267.32 265.12 L271.16 265.54 L275.01 266.01 L278.85 266.5 L282.69 267.03 L286.53 267.58 L290.37 268.17 L294.21 268.79 L298.05 269.44 L301.9 270.12 L305.74 270.83 L309.58 271.57 L313.42 272.33 L317.26 273.12 L321.1 273.93 L324.94 274.77 L328.79 275.64 L332.63 276.53 L336.47 277.44 L340.31 278.37 L344.15 279.32 L347.99 280.3 L351.83 281.29 L355.68 282.31 L359.52 283.34 L363.36 284.39 L367.2 285.46 L371.04 286.55 L374.88 287.66 L378.72 288.78 L382.57 289.91 L386.41 291.07 L390.25 292.24 L394.09 293.42 L397.93 294.62 L401.77 295.84 L405.61 297.07 L409.46 298.31 L413.3 299.57 L417.14 300.85 L420.98 302.14 L424.82 303.44 L428.66 304.76 L432.5 306.09 L436.35 307.43 L440.19 308.8 L444.03 310.17 L447.87 311.56 L451.71 312.97 L455.55 314.39 L459.39 315.82 L463.24 317.27 L467.08 318.73 L470.92 320.21 L474.76 321.71 L478.6 323.22 L482.44 324.75 L486.28 326.29 L490.13 327.84 L493.97 329.42 L497.81 331 L501.65 332.6 L505.49 334.21 L509.33 335.82 L513.17 337.45 L517.02 339.05 L517.4 339.2 L747.22 339.2" fill="none" stroke="#000" stroke-width="2.1"/>
<path d="M133.8 151.63 L151.94 151.63 L171.17 151.63 L190.4 151.63 L209.64 151.7 L228.87 152.11 L248.11 153.33 L251.96 153.71 L255.8 154.15 L259.64 154.65 L263.48 155.2 L267.32 155.82 L271.16 156.5 L275.01 157.25 L278.85 158.07 L282.69 158.95 L286.53 159.9 L290.37 160.93 L294.21 162.02 L298.05 163.18 L301.9 164.41 L305.74 165.72 L309.58 167.09 L313.42 168.53 L317.26 170.04 L321.1 171.63 L324.94 173.28 L328.79 174.99 L332.63 176.78 L336.47 178.63 L340.31 180.55 L344.15 182.53 L347.99 184.58 L351.83 186.7 L355.68 188.88 L359.52 191.12 L363.36 193.42 L367.2 195.79 L371.04 198.22 L374.88 200.71 L378.72 203.26 L382.57 205.88 L386.41 208.55 L390.25 211.29 L394.09 214.09 L397.93 216.95 L401.77 219.87 L405.61 222.85 L409.46 225.9 L413.3 229 L417.14 232.17 L420.98 235.4 L424.82 238.7 L428.66 242.06 L432.5 245.48 L436.35 248.97 L440.19 252.53 L444.03 256.16 L447.87 259.85 L451.71 263.61 L455.55 267.44 L459.39 271.34 L463.24 275.32 L467.08 279.37 L470.92 283.49 L474.76 287.69 L478.6 291.96 L482.44 296.32 L486.28 300.74 L490.13 305.25 L493.97 309.84 L497.81 314.5 L501.65 319.24 L505.49 324.05 L509.33 328.92 L513.17 333.83 L517.02 338.73 L517.4 339.2" fill="none" stroke="#000" stroke-width="2.1"/>
<path d="M133.8 74.11 L151.94 74.11 L171.17 74.12 L190.4 74.18 L209.64 74.44 L228.87 75.14 L248.11 76.65 L251.96 77.09 L255.8 77.58 L259.64 78.12 L263.48 78.72 L267.32 79.38 L271.16 80.1 L275.01 80.89 L278.85 81.75 L282.69 82.69 L286.53 83.69 L290.37 84.77 L294.21 85.93 L298.05 87.16 L301.9 88.48 L305.74 89.88 L309.58 91.37 L313.42 92.94 L317.26 94.6 L321.1 96.35 L324.94 98.19 L328.79 100.13 L332.63 102.15 L336.47 104.28 L340.31 106.49 L344.15 108.81 L347.99 111.22 L351.83 113.74 L355.68 116.35 L359.52 119.07 L363.36 121.89 L367.2 124.82 L371.04 127.85 L374.88 130.99 L378.72 134.24 L382.57 137.6 L386.41 141.07 L390.25 144.66 L394.09 148.36 L397.93 152.18 L401.77 156.12 L405.61 160.17 L409.46 164.35 L413.3 168.66 L417.14 173.08 L420.98 177.64 L424.82 182.32 L428.66 187.14 L432.5 192.09 L436.35 197.18 L440.19 202.4 L444.03 207.76 L447.87 213.27 L451.71 218.92 L455.55 224.71 L459.39 230.66 L463.24 236.75 L467.08 243 L470.92 249.41 L474.76 255.97 L478.6 262.69 L482.44 269.57 L486.28 276.62 L490.13 283.82 L493.97 291.19 L497.81 298.73 L501.65 306.42 L505.49 314.26 L509.33 322.24 L513.17 330.33 L517.02 338.42 L517.4 339.2" fill="none" stroke="#000" stroke-width="2.1"/>
<circle cx="194" cy="409" r="8.9" fill="#EAC46A" stroke="#000" stroke-width="2.6"/><circle cx="201" cy="416" r="8.9" fill="#EAC46A" stroke="#000" stroke-width="2.6"/><circle cx="212.9" cy="422.9" r="8.9" fill="#EAC46A" stroke="#000" stroke-width="2.6"/><circle cx="221.9" cy="414" r="8.9" fill="#EAC46A" stroke="#000" stroke-width="2.6"/><circle cx="233.5" cy="410" r="8.9" fill="#EAC46A" stroke="#000" stroke-width="2.6"/><circle cx="239.8" cy="422" r="8.9" fill="#EAC46A" stroke="#000" stroke-width="2.6"/><circle cx="247.8" cy="418" r="8.9" fill="#EAC46A" stroke="#000" stroke-width="2.6"/><circle cx="256.8" cy="415" r="8.9" fill="#EAC46A" stroke="#000" stroke-width="2.6"/><circle cx="265.8" cy="417" r="8.9" fill="#EAC46A" stroke="#000" stroke-width="2.6"/><circle cx="267.8" cy="426" r="8.9" fill="#EAC46A" stroke="#000" stroke-width="2.6"/><circle cx="284.7" cy="426" r="8.9" fill="#EAC46A" stroke="#000" stroke-width="2.6"/><circle cx="301.7" cy="432.9" r="8.9" fill="#EAC46A" stroke="#000" stroke-width="2.6"/><circle cx="317" cy="442.3" r="8.9" fill="#EAC46A" stroke="#000" stroke-width="2.6"/><circle cx="334" cy="446.6" r="8.9" fill="#EAC46A" stroke="#000" stroke-width="2.6"/><circle cx="354.3" cy="460.4" r="8.9" fill="#EAC46A" stroke="#000" stroke-width="2.6"/><circle cx="375.5" cy="473.2" r="8.9" fill="#EAC46A" stroke="#000" stroke-width="2.6"/><circle cx="395.7" cy="490.2" r="8.9" fill="#EAC46A" stroke="#000" stroke-width="2.6"/><circle cx="416" cy="513.6" r="8.9" fill="#EAC46A" stroke="#000" stroke-width="2.6"/><circle cx="437.4" cy="540" r="8.9" fill="#EAC46A" stroke="#000" stroke-width="2.6"/><circle cx="457.2" cy="562.3" r="8.9" fill="#EAC46A" stroke="#000" stroke-width="2.6"/><circle cx="476.8" cy="594" r="8.9" fill="#EAC46A" stroke="#000" stroke-width="2.6"/><circle cx="497.3" cy="614.5" r="8.9" fill="#EAC46A" stroke="#000" stroke-width="2.6"/><circle cx="505.6" cy="627.5" r="8.9" fill="#EAC46A" stroke="#000" stroke-width="2.6"/><circle cx="515" cy="653.6" r="8.9" fill="#EAC46A" stroke="#000" stroke-width="2.6"/><circle cx="529.8" cy="653.6" r="8.9" fill="#EAC46A" stroke="#000" stroke-width="2.6"/><circle cx="612.8" cy="651.9" r="8.9" fill="#EAC46A" stroke="#000" stroke-width="2.6"/><circle cx="688" cy="651.9" r="8.9" fill="#EAC46A" stroke="#000" stroke-width="2.6"/><rect x="189.85" y="487.85" width="16.3" height="16.3" fill="#EAC46A" stroke="#000" stroke-width="2.8"/><line x1="198" y1="487.85" x2="198" y2="504.15" stroke="#000" stroke-width="1.4"/><line x1="186.8" y1="492.5" x2="209.2" y2="492.5" stroke="#000" stroke-width="1.4"/><line x1="186.8" y1="499.5" x2="209.2" y2="499.5" stroke="#000" stroke-width="1.4"/><rect x="205.85" y="489.85" width="16.3" height="16.3" fill="#EAC46A" stroke="#000" stroke-width="2.8"/><line x1="214" y1="489.85" x2="214" y2="506.15" stroke="#000" stroke-width="1.4"/><line x1="202.8" y1="494.5" x2="225.2" y2="494.5" stroke="#000" stroke-width="1.4"/><line x1="202.8" y1="501.5" x2="225.2" y2="501.5" stroke="#000" stroke-width="1.4"/><rect x="212.85" y="493.85" width="16.3" height="16.3" fill="#EAC46A" stroke="#000" stroke-width="2.8"/><line x1="221" y1="493.85" x2="221" y2="510.15" stroke="#000" stroke-width="1.4"/><line x1="209.8" y1="498.5" x2="232.2" y2="498.5" stroke="#000" stroke-width="1.4"/><line x1="209.8" y1="505.5" x2="232.2" y2="505.5" stroke="#000" stroke-width="1.4"/><rect x="221.85" y="489.85" width="16.3" height="16.3" fill="#EAC46A" stroke="#000" stroke-width="2.8"/><line x1="230" y1="489.85" x2="230" y2="506.15" stroke="#000" stroke-width="1.4"/><line x1="218.8" y1="494.5" x2="241.2" y2="494.5" stroke="#000" stroke-width="1.4"/><line x1="218.8" y1="501.5" x2="241.2" y2="501.5" stroke="#000" stroke-width="1.4"/><rect x="233.65" y="486.85" width="16.3" height="16.3" fill="#EAC46A" stroke="#000" stroke-width="2.8"/><line x1="241.8" y1="486.85" x2="241.8" y2="503.15" stroke="#000" stroke-width="1.4"/><line x1="230.6" y1="491.5" x2="253" y2="491.5" stroke="#000" stroke-width="1.4"/><line x1="230.6" y1="498.5" x2="253" y2="498.5" stroke="#000" stroke-width="1.4"/><rect x="243.65" y="486.85" width="16.3" height="16.3" fill="#EAC46A" stroke="#000" stroke-width="2.8"/><line x1="251.8" y1="486.85" x2="251.8" y2="503.15" stroke="#000" stroke-width="1.4"/><line x1="240.6" y1="491.5" x2="263" y2="491.5" stroke="#000" stroke-width="1.4"/><line x1="240.6" y1="498.5" x2="263" y2="498.5" stroke="#000" stroke-width="1.4"/><rect x="251.65" y="488.85" width="16.3" height="16.3" fill="#EAC46A" stroke="#000" stroke-width="2.8"/><line x1="259.8" y1="488.85" x2="259.8" y2="505.15" stroke="#000" stroke-width="1.4"/><line x1="248.6" y1="493.5" x2="271" y2="493.5" stroke="#000" stroke-width="1.4"/><line x1="248.6" y1="500.5" x2="271" y2="500.5" stroke="#000" stroke-width="1.4"/><rect x="262.65" y="488.85" width="16.3" height="16.3" fill="#EAC46A" stroke="#000" stroke-width="2.8"/><line x1="270.8" y1="488.85" x2="270.8" y2="505.15" stroke="#000" stroke-width="1.4"/><line x1="259.6" y1="493.5" x2="282" y2="493.5" stroke="#000" stroke-width="1.4"/><line x1="259.6" y1="500.5" x2="282" y2="500.5" stroke="#000" stroke-width="1.4"/><rect x="273.55" y="489.85" width="16.3" height="16.3" fill="#EAC46A" stroke="#000" stroke-width="2.8"/><line x1="281.7" y1="489.85" x2="281.7" y2="506.15" stroke="#000" stroke-width="1.4"/><line x1="270.5" y1="494.5" x2="292.9" y2="494.5" stroke="#000" stroke-width="1.4"/><line x1="270.5" y1="501.5" x2="292.9" y2="501.5" stroke="#000" stroke-width="1.4"/><rect x="284.55" y="489.85" width="16.3" height="16.3" fill="#EAC46A" stroke="#000" stroke-width="2.8"/><line x1="292.7" y1="489.85" x2="292.7" y2="506.15" stroke="#000" stroke-width="1.4"/><line x1="281.5" y1="494.5" x2="303.9" y2="494.5" stroke="#000" stroke-width="1.4"/><line x1="281.5" y1="501.5" x2="303.9" y2="501.5" stroke="#000" stroke-width="1.4"/><rect x="295.55" y="490.85" width="16.3" height="16.3" fill="#EAC46A" stroke="#000" stroke-width="2.8"/><line x1="303.7" y1="490.85" x2="303.7" y2="507.15" stroke="#000" stroke-width="1.4"/><line x1="292.5" y1="495.5" x2="314.9" y2="495.5" stroke="#000" stroke-width="1.4"/><line x1="292.5" y1="502.5" x2="314.9" y2="502.5" stroke="#000" stroke-width="1.4"/><rect x="303.55" y="492.85" width="16.3" height="16.3" fill="#EAC46A" stroke="#000" stroke-width="2.8"/><line x1="311.7" y1="492.85" x2="311.7" y2="509.15" stroke="#000" stroke-width="1.4"/><line x1="300.5" y1="497.5" x2="322.9" y2="497.5" stroke="#000" stroke-width="1.4"/><line x1="300.5" y1="504.5" x2="322.9" y2="504.5" stroke="#000" stroke-width="1.4"/><rect x="311.45" y="497.85" width="16.3" height="16.3" fill="#EAC46A" stroke="#000" stroke-width="2.8"/><line x1="319.6" y1="497.85" x2="319.6" y2="514.15" stroke="#000" stroke-width="1.4"/><line x1="308.4" y1="502.5" x2="330.8" y2="502.5" stroke="#000" stroke-width="1.4"/><line x1="308.4" y1="509.5" x2="330.8" y2="509.5" stroke="#000" stroke-width="1.4"/><rect x="300.35" y="490.55" width="16.3" height="16.3" fill="#EAC46A" stroke="#000" stroke-width="2.8"/><line x1="308.5" y1="490.55" x2="308.5" y2="506.85" stroke="#000" stroke-width="1.4"/><line x1="297.3" y1="495.2" x2="319.7" y2="495.2" stroke="#000" stroke-width="1.4"/><line x1="297.3" y1="502.2" x2="319.7" y2="502.2" stroke="#000" stroke-width="1.4"/><rect x="309.95" y="495.85" width="16.3" height="16.3" fill="#EAC46A" stroke="#000" stroke-width="2.8"/><line x1="318.1" y1="495.85" x2="318.1" y2="512.15" stroke="#000" stroke-width="1.4"/><line x1="306.9" y1="500.5" x2="329.3" y2="500.5" stroke="#000" stroke-width="1.4"/><line x1="306.9" y1="507.5" x2="329.3" y2="507.5" stroke="#000" stroke-width="1.4"/><rect x="324.85" y="500.75" width="16.3" height="16.3" fill="#EAC46A" stroke="#000" stroke-width="2.8"/><line x1="333" y1="500.75" x2="333" y2="517.05" stroke="#000" stroke-width="1.4"/><line x1="321.8" y1="505.4" x2="344.2" y2="505.4" stroke="#000" stroke-width="1.4"/><line x1="321.8" y1="512.4" x2="344.2" y2="512.4" stroke="#000" stroke-width="1.4"/><rect x="348.25" y="506.55" width="16.3" height="16.3" fill="#EAC46A" stroke="#000" stroke-width="2.8"/><line x1="356.4" y1="506.55" x2="356.4" y2="522.85" stroke="#000" stroke-width="1.4"/><line x1="345.2" y1="511.2" x2="367.6" y2="511.2" stroke="#000" stroke-width="1.4"/><line x1="345.2" y1="518.2" x2="367.6" y2="518.2" stroke="#000" stroke-width="1.4"/><rect x="370.95" y="520.35" width="16.3" height="16.3" fill="#EAC46A" stroke="#000" stroke-width="2.8"/><line x1="379.1" y1="520.35" x2="379.1" y2="536.65" stroke="#000" stroke-width="1.4"/><line x1="367.9" y1="525" x2="390.3" y2="525" stroke="#000" stroke-width="1.4"/><line x1="367.9" y1="532" x2="390.3" y2="532" stroke="#000" stroke-width="1.4"/><rect x="394.45" y="535.25" width="16.3" height="16.3" fill="#EAC46A" stroke="#000" stroke-width="2.8"/><line x1="402.6" y1="535.25" x2="402.6" y2="551.55" stroke="#000" stroke-width="1.4"/><line x1="391.4" y1="539.9" x2="413.8" y2="539.9" stroke="#000" stroke-width="1.4"/><line x1="391.4" y1="546.9" x2="413.8" y2="546.9" stroke="#000" stroke-width="1.4"/><rect x="418.65" y="548.85" width="16.3" height="16.3" fill="#EAC46A" stroke="#000" stroke-width="2.8"/><line x1="426.8" y1="548.85" x2="426.8" y2="565.15" stroke="#000" stroke-width="1.4"/><line x1="415.6" y1="553.5" x2="438" y2="553.5" stroke="#000" stroke-width="1.4"/><line x1="415.6" y1="560.5" x2="438" y2="560.5" stroke="#000" stroke-width="1.4"/><rect x="440.75" y="561.65" width="16.3" height="16.3" fill="#EAC46A" stroke="#000" stroke-width="2.8"/><line x1="448.9" y1="561.65" x2="448.9" y2="577.95" stroke="#000" stroke-width="1.4"/><line x1="437.7" y1="566.3" x2="460.1" y2="566.3" stroke="#000" stroke-width="1.4"/><line x1="437.7" y1="573.3" x2="460.1" y2="573.3" stroke="#000" stroke-width="1.4"/><rect x="452.85" y="573.75" width="16.3" height="16.3" fill="#EAC46A" stroke="#000" stroke-width="2.8"/><line x1="461" y1="573.75" x2="461" y2="590.05" stroke="#000" stroke-width="1.4"/><line x1="449.8" y1="578.4" x2="472.2" y2="578.4" stroke="#000" stroke-width="1.4"/><line x1="449.8" y1="585.4" x2="472.2" y2="585.4" stroke="#000" stroke-width="1.4"/><rect x="463.95" y="587.75" width="16.3" height="16.3" fill="#EAC46A" stroke="#000" stroke-width="2.8"/><line x1="472.1" y1="587.75" x2="472.1" y2="604.05" stroke="#000" stroke-width="1.4"/><line x1="460.9" y1="592.4" x2="483.3" y2="592.4" stroke="#000" stroke-width="1.4"/><line x1="460.9" y1="599.4" x2="483.3" y2="599.4" stroke="#000" stroke-width="1.4"/><rect x="474.25" y="602.65" width="16.3" height="16.3" fill="#EAC46A" stroke="#000" stroke-width="2.8"/><line x1="482.4" y1="602.65" x2="482.4" y2="618.95" stroke="#000" stroke-width="1.4"/><line x1="471.2" y1="607.3" x2="493.6" y2="607.3" stroke="#000" stroke-width="1.4"/><line x1="471.2" y1="614.3" x2="493.6" y2="614.3" stroke="#000" stroke-width="1.4"/><rect x="487.25" y="619.35" width="16.3" height="16.3" fill="#EAC46A" stroke="#000" stroke-width="2.8"/><line x1="495.4" y1="619.35" x2="495.4" y2="635.65" stroke="#000" stroke-width="1.4"/><line x1="484.2" y1="624" x2="506.6" y2="624" stroke="#000" stroke-width="1.4"/><line x1="484.2" y1="631" x2="506.6" y2="631" stroke="#000" stroke-width="1.4"/><rect x="497.45" y="630.55" width="16.3" height="16.3" fill="#EAC46A" stroke="#000" stroke-width="2.8"/><line x1="505.6" y1="630.55" x2="505.6" y2="646.85" stroke="#000" stroke-width="1.4"/><line x1="494.4" y1="635.2" x2="516.8" y2="635.2" stroke="#000" stroke-width="1.4"/><line x1="494.4" y1="642.2" x2="516.8" y2="642.2" stroke="#000" stroke-width="1.4"/><rect x="512.35" y="636.15" width="16.3" height="16.3" fill="#EAC46A" stroke="#000" stroke-width="2.8"/><line x1="520.5" y1="636.15" x2="520.5" y2="652.45" stroke="#000" stroke-width="1.4"/><line x1="509.3" y1="640.8" x2="531.7" y2="640.8" stroke="#000" stroke-width="1.4"/><line x1="509.3" y1="647.8" x2="531.7" y2="647.8" stroke="#000" stroke-width="1.4"/><rect x="535.35" y="639.85" width="16.3" height="16.3" fill="#EAC46A" stroke="#000" stroke-width="2.8"/><line x1="543.5" y1="639.85" x2="543.5" y2="656.15" stroke="#000" stroke-width="1.4"/><line x1="532.3" y1="644.5" x2="554.7" y2="644.5" stroke="#000" stroke-width="1.4"/><line x1="532.3" y1="651.5" x2="554.7" y2="651.5" stroke="#000" stroke-width="1.4"/><rect x="571.05" y="643.75" width="16.3" height="16.3" fill="#EAC46A" stroke="#000" stroke-width="2.8"/><line x1="579.2" y1="643.75" x2="579.2" y2="660.05" stroke="#000" stroke-width="1.4"/><line x1="568" y1="648.4" x2="590.4" y2="648.4" stroke="#000" stroke-width="1.4"/><line x1="568" y1="655.4" x2="590.4" y2="655.4" stroke="#000" stroke-width="1.4"/><rect x="661.65" y="641.75" width="16.3" height="16.3" fill="#EAC46A" stroke="#000" stroke-width="2.8"/><line x1="669.8" y1="641.75" x2="669.8" y2="658.05" stroke="#000" stroke-width="1.4"/><line x1="658.6" y1="646.4" x2="681" y2="646.4" stroke="#000" stroke-width="1.4"/><line x1="658.6" y1="653.4" x2="681" y2="653.4" stroke="#000" stroke-width="1.4"/>
<path d="M133.8 416.79 L151.94 416.79 L171.17 416.79 L190.4 416.79 L209.64 416.86 L228.87 417.28 L248.11 418.61 L251.96 419.04 L255.8 419.53 L259.64 420.08 L263.48 420.71 L267.32 421.41 L271.16 422.18 L275.01 423.03 L278.85 423.97 L282.69 424.98 L286.53 426.08 L290.37 427.26 L294.21 428.53 L298.05 429.88 L301.9 431.32 L305.74 432.85 L309.58 434.47 L313.42 436.17 L317.26 437.96 L321.1 439.83 L324.94 441.79 L328.79 443.84 L332.63 445.98 L336.47 448.2 L340.31 450.5 L344.15 452.89 L347.99 455.37 L351.83 457.93 L355.68 460.57 L359.52 463.29 L363.36 466.1 L367.2 468.99 L371.04 471.96 L374.88 475.02 L378.72 478.16 L382.57 481.38 L386.41 484.68 L390.25 488.06 L394.09 491.53 L397.93 495.08 L401.77 498.72 L405.61 502.43 L409.46 506.24 L413.3 510.12 L417.14 514.1 L420.98 518.16 L424.82 522.3 L428.66 526.54 L432.5 530.87 L436.35 535.29 L440.19 539.8 L444.03 544.4 L447.87 549.1 L451.71 553.9 L455.55 558.79 L459.39 563.79 L463.24 568.89 L467.08 574.09 L470.92 579.39 L474.76 584.81 L478.6 590.33 L482.44 595.96 L486.28 601.71 L490.13 607.56 L493.97 613.53 L497.81 619.61 L501.65 625.8 L505.49 632.09 L509.33 638.48 L513.17 644.94 L517.02 651.38 L517.4 652 L747.22 652" fill="none" stroke="#000" stroke-width="2.1"/>
<path d="M133.8 495.65 L151.94 495.65 L171.17 495.66 L190.4 495.7 L209.64 495.84 L228.87 496.2 L248.11 496.95 L251.96 497.17 L255.8 497.41 L259.64 497.67 L263.48 497.97 L267.32 498.29 L271.16 498.65 L275.01 499.04 L278.85 499.46 L282.69 499.93 L286.53 500.43 L290.37 500.97 L294.21 501.55 L298.05 502.17 L301.9 502.84 L305.74 503.55 L309.58 504.31 L313.42 505.12 L317.26 505.97 L321.1 506.88 L324.94 507.84 L328.79 508.85 L332.63 509.91 L336.47 511.03 L340.31 512.21 L344.15 513.44 L347.99 514.74 L351.83 516.09 L355.68 517.5 L359.52 518.98 L363.36 520.51 L367.2 522.12 L371.04 523.79 L374.88 525.52 L378.72 527.33 L382.57 529.2 L386.41 531.15 L390.25 533.16 L394.09 535.26 L397.93 537.42 L401.77 539.67 L405.61 541.99 L409.46 544.39 L413.3 546.88 L417.14 549.44 L420.98 552.1 L424.82 554.83 L428.66 557.66 L432.5 560.58 L436.35 563.59 L440.19 566.69 L444.03 569.9 L447.87 573.2 L451.71 576.6 L455.55 580.1 L459.39 583.71 L463.24 587.42 L467.08 591.25 L470.92 595.18 L474.76 599.23 L478.6 603.4 L482.44 607.68 L486.28 612.09 L490.13 616.61 L493.97 621.26 L497.81 626.03 L501.65 630.92 L505.49 635.93 L509.33 641.05 L513.17 646.26 L517.02 651.5 L517.4 652" fill="none" stroke="#000" stroke-width="2.1"/>
<circle cx="218.8" cy="782" r="9.4" fill="#DEFC8C" stroke="#000" stroke-width="2.3"/><circle cx="235.9" cy="789.5" r="9.4" fill="#DEFC8C" stroke="#000" stroke-width="2.3"/><circle cx="239.9" cy="790.3" r="9.4" fill="#DEFC8C" stroke="#000" stroke-width="2.3"/><circle cx="251.9" cy="779.5" r="9.4" fill="#DEFC8C" stroke="#000" stroke-width="2.3"/><circle cx="253.5" cy="787.1" r="9.4" fill="#DEFC8C" stroke="#000" stroke-width="2.3"/><circle cx="264.6" cy="790.3" r="9.4" fill="#DEFC8C" stroke="#000" stroke-width="2.3"/><circle cx="277.4" cy="791.9" r="9.4" fill="#DEFC8C" stroke="#000" stroke-width="2.3"/><circle cx="291" cy="794.3" r="9.4" fill="#DEFC8C" stroke="#000" stroke-width="2.3"/><circle cx="303.5" cy="798.8" r="9.4" fill="#DEFC8C" stroke="#000" stroke-width="2.3"/><circle cx="313.4" cy="804.8" r="9.4" fill="#DEFC8C" stroke="#000" stroke-width="2.3"/><circle cx="329.2" cy="821.5" r="9.4" fill="#DEFC8C" stroke="#000" stroke-width="2.3"/><circle cx="353.8" cy="839.8" r="9.4" fill="#DEFC8C" stroke="#000" stroke-width="2.3"/><circle cx="378.7" cy="859.1" r="9.4" fill="#DEFC8C" stroke="#000" stroke-width="2.3"/><circle cx="403" cy="884.7" r="9.4" fill="#DEFC8C" stroke="#000" stroke-width="2.3"/><circle cx="439.6" cy="911.3" r="9.4" fill="#DEFC8C" stroke="#000" stroke-width="2.3"/><circle cx="464.5" cy="936.2" r="9.4" fill="#DEFC8C" stroke="#000" stroke-width="2.3"/><circle cx="477.8" cy="956.1" r="9.4" fill="#DEFC8C" stroke="#000" stroke-width="2.3"/><circle cx="489.4" cy="969.4" r="9.4" fill="#DEFC8C" stroke="#000" stroke-width="2.3"/><circle cx="520.5" cy="998.3" r="9.4" fill="#DEFC8C" stroke="#000" stroke-width="2.3"/><circle cx="550.5" cy="1011.9" r="9.4" fill="#DEFC8C" stroke="#000" stroke-width="2.3"/><circle cx="611.3" cy="1011.9" r="9.4" fill="#DEFC8C" stroke="#000" stroke-width="2.3"/><circle cx="734.8" cy="1009.9" r="9.4" fill="#DEFC8C" stroke="#000" stroke-width="2.3"/>
<path d="M133.8 783.54 L151.94 783.54 L171.17 783.54 L190.4 783.55 L209.64 783.72 L228.87 784.56 L248.11 786.82 L251.96 787.49 L255.8 788.25 L259.64 789.09 L263.48 790.02 L267.32 791.05 L271.16 792.16 L275.01 793.36 L278.85 794.66 L282.69 796.05 L286.53 797.53 L290.37 799.1 L294.21 800.76 L298.05 802.5 L301.9 804.34 L305.74 806.26 L309.58 808.27 L313.42 810.36 L317.26 812.54 L321.1 814.79 L324.94 817.12 L328.79 819.53 L332.63 822.01 L336.47 824.56 L340.31 827.19 L344.15 829.89 L347.99 832.65 L351.83 835.48 L355.68 838.38 L359.52 841.34 L363.36 844.37 L367.2 847.45 L371.04 850.6 L374.88 853.8 L378.72 857.06 L382.57 860.38 L386.41 863.76 L390.25 867.19 L394.09 870.68 L397.93 874.22 L401.77 877.82 L405.61 881.47 L409.46 885.18 L413.3 888.94 L417.14 892.75 L420.98 896.62 L424.82 900.54 L428.66 904.51 L432.5 908.54 L436.35 912.62 L440.19 916.76 L444.03 920.95 L447.87 925.2 L451.71 929.5 L455.55 933.86 L459.39 938.28 L463.24 942.75 L467.08 947.28 L470.92 951.87 L474.76 956.52 L478.6 961.23 L482.44 966 L486.28 970.82 L490.13 975.71 L493.97 980.65 L497.81 985.65 L501.65 990.7 L505.49 995.8 L509.33 1000.94 L513.17 1006.1 L517.02 1011.21 L517.4 1011.7 L747.22 1011.7" fill="none" stroke="#000" stroke-width="2.1"/>
<circle cx="179.6" cy="1123.5" r="9.3" fill="#FA6E6E" stroke="#000" stroke-width="2.3"/><line x1="179.6" y1="1098.5" x2="179.6" y2="1114.2" stroke="#000" stroke-width="1.4"/><line x1="179.6" y1="1132.8" x2="179.6" y2="1148.5" stroke="#000" stroke-width="1.4"/><line x1="168.6" y1="1098.5" x2="190.6" y2="1098.5" stroke="#000" stroke-width="1.4"/><line x1="168.6" y1="1148.5" x2="190.6" y2="1148.5" stroke="#000" stroke-width="1.4"/><circle cx="189.9" cy="1139.1" r="9.3" fill="#FA6E6E" stroke="#000" stroke-width="2.3"/><line x1="189.9" y1="1111.1" x2="189.9" y2="1129.8" stroke="#000" stroke-width="1.4"/><line x1="189.9" y1="1148.4" x2="189.9" y2="1156.1" stroke="#000" stroke-width="1.4"/><line x1="178.9" y1="1111.1" x2="200.9" y2="1111.1" stroke="#000" stroke-width="1.4"/><line x1="178.9" y1="1156.1" x2="200.9" y2="1156.1" stroke="#000" stroke-width="1.4"/><circle cx="195.9" cy="1129.5" r="9.3" fill="#FA6E6E" stroke="#000" stroke-width="2.3"/><line x1="195.9" y1="1111.5" x2="195.9" y2="1120.2" stroke="#000" stroke-width="1.4"/><line x1="195.9" y1="1138.8" x2="195.9" y2="1147.5" stroke="#000" stroke-width="1.4"/><line x1="184.9" y1="1111.5" x2="206.9" y2="1111.5" stroke="#000" stroke-width="1.4"/><line x1="184.9" y1="1147.5" x2="206.9" y2="1147.5" stroke="#000" stroke-width="1.4"/><circle cx="200.2" cy="1160.6" r="9.3" fill="#FA6E6E" stroke="#000" stroke-width="2.3"/><line x1="200.2" y1="1143.6" x2="200.2" y2="1151.3" stroke="#000" stroke-width="1.4"/><line x1="200.2" y1="1169.9" x2="200.2" y2="1177.6" stroke="#000" stroke-width="1.4"/><line x1="189.2" y1="1143.6" x2="211.2" y2="1143.6" stroke="#000" stroke-width="1.4"/><line x1="189.2" y1="1177.6" x2="211.2" y2="1177.6" stroke="#000" stroke-width="1.4"/><circle cx="209.1" cy="1129.5" r="9.3" fill="#FA6E6E" stroke="#000" stroke-width="2.3"/><line x1="209.1" y1="1111.5" x2="209.1" y2="1120.2" stroke="#000" stroke-width="1.4"/><line x1="209.1" y1="1138.8" x2="209.1" y2="1147.5" stroke="#000" stroke-width="1.4"/><line x1="198.1" y1="1111.5" x2="220.1" y2="1111.5" stroke="#000" stroke-width="1.4"/><line x1="198.1" y1="1147.5" x2="220.1" y2="1147.5" stroke="#000" stroke-width="1.4"/><circle cx="210.3" cy="1148.6" r="9.3" fill="#FA6E6E" stroke="#000" stroke-width="2.3"/><line x1="210.3" y1="1128.6" x2="210.3" y2="1139.3" stroke="#000" stroke-width="1.4"/><line x1="210.3" y1="1157.9" x2="210.3" y2="1173.6" stroke="#000" stroke-width="1.4"/><line x1="199.3" y1="1128.6" x2="221.3" y2="1128.6" stroke="#000" stroke-width="1.4"/><line x1="199.3" y1="1173.6" x2="221.3" y2="1173.6" stroke="#000" stroke-width="1.4"/><circle cx="217.4" cy="1136.7" r="9.3" fill="#FA6E6E" stroke="#000" stroke-width="2.3"/><line x1="217.4" y1="1121.7" x2="217.4" y2="1127.4" stroke="#000" stroke-width="1.4"/><line x1="217.4" y1="1146" x2="217.4" y2="1151.7" stroke="#000" stroke-width="1.4"/><line x1="206.4" y1="1121.7" x2="228.4" y2="1121.7" stroke="#000" stroke-width="1.4"/><line x1="206.4" y1="1151.7" x2="228.4" y2="1151.7" stroke="#000" stroke-width="1.4"/><circle cx="222.7" cy="1136.7" r="9.3" fill="#FA6E6E" stroke="#000" stroke-width="2.3"/><line x1="222.7" y1="1121.7" x2="222.7" y2="1127.4" stroke="#000" stroke-width="1.4"/><line x1="222.7" y1="1146" x2="222.7" y2="1151.7" stroke="#000" stroke-width="1.4"/><line x1="211.7" y1="1121.7" x2="233.7" y2="1121.7" stroke="#000" stroke-width="1.4"/><line x1="211.7" y1="1151.7" x2="233.7" y2="1151.7" stroke="#000" stroke-width="1.4"/><circle cx="229.4" cy="1140.3" r="9.3" fill="#FA6E6E" stroke="#000" stroke-width="2.3"/><line x1="229.4" y1="1121.3" x2="229.4" y2="1131" stroke="#000" stroke-width="1.4"/><line x1="229.4" y1="1149.6" x2="229.4" y2="1159.3" stroke="#000" stroke-width="1.4"/><line x1="218.4" y1="1121.3" x2="240.4" y2="1121.3" stroke="#000" stroke-width="1.4"/><line x1="218.4" y1="1159.3" x2="240.4" y2="1159.3" stroke="#000" stroke-width="1.4"/><circle cx="242.6" cy="1135.5" r="9.3" fill="#FA6E6E" stroke="#000" stroke-width="2.3"/><line x1="242.6" y1="1120.5" x2="242.6" y2="1126.2" stroke="#000" stroke-width="1.4"/><line x1="242.6" y1="1144.8" x2="242.6" y2="1150.5" stroke="#000" stroke-width="1.4"/><line x1="231.6" y1="1120.5" x2="253.6" y2="1120.5" stroke="#000" stroke-width="1.4"/><line x1="231.6" y1="1150.5" x2="253.6" y2="1150.5" stroke="#000" stroke-width="1.4"/><circle cx="249.8" cy="1143.9" r="9.3" fill="#FA6E6E" stroke="#000" stroke-width="2.3"/><line x1="249.8" y1="1125.9" x2="249.8" y2="1134.6" stroke="#000" stroke-width="1.4"/><line x1="249.8" y1="1153.2" x2="249.8" y2="1161.9" stroke="#000" stroke-width="1.4"/><line x1="238.8" y1="1125.9" x2="260.8" y2="1125.9" stroke="#000" stroke-width="1.4"/><line x1="238.8" y1="1161.9" x2="260.8" y2="1161.9" stroke="#000" stroke-width="1.4"/><circle cx="256.9" cy="1141.5" r="9.3" fill="#FA6E6E" stroke="#000" stroke-width="2.3"/><line x1="256.9" y1="1123.5" x2="256.9" y2="1132.2" stroke="#000" stroke-width="1.4"/><line x1="256.9" y1="1150.8" x2="256.9" y2="1159.5" stroke="#000" stroke-width="1.4"/><line x1="245.9" y1="1123.5" x2="267.9" y2="1123.5" stroke="#000" stroke-width="1.4"/><line x1="245.9" y1="1159.5" x2="267.9" y2="1159.5" stroke="#000" stroke-width="1.4"/><circle cx="264.1" cy="1134.3" r="9.3" fill="#FA6E6E" stroke="#000" stroke-width="2.3"/><line x1="264.1" y1="1112.7" x2="264.1" y2="1125" stroke="#000" stroke-width="1.4"/><line x1="264.1" y1="1143.6" x2="264.1" y2="1155.3" stroke="#000" stroke-width="1.4"/><line x1="253.1" y1="1112.7" x2="275.1" y2="1112.7" stroke="#000" stroke-width="1.4"/><line x1="253.1" y1="1155.3" x2="275.1" y2="1155.3" stroke="#000" stroke-width="1.4"/><circle cx="275.4" cy="1137.9" r="9.3" fill="#FA6E6E" stroke="#000" stroke-width="2.3"/><line x1="275.4" y1="1120.9" x2="275.4" y2="1128.6" stroke="#000" stroke-width="1.4"/><line x1="275.4" y1="1147.2" x2="275.4" y2="1154.9" stroke="#000" stroke-width="1.4"/><line x1="264.4" y1="1120.9" x2="286.4" y2="1120.9" stroke="#000" stroke-width="1.4"/><line x1="264.4" y1="1154.9" x2="286.4" y2="1154.9" stroke="#000" stroke-width="1.4"/><circle cx="291.6" cy="1127.1" r="9.3" fill="#FA6E6E" stroke="#000" stroke-width="2.3"/><line x1="291.6" y1="1109.6" x2="291.6" y2="1117.8" stroke="#000" stroke-width="1.4"/><line x1="291.6" y1="1136.4" x2="291.6" y2="1144.6" stroke="#000" stroke-width="1.4"/><line x1="280.6" y1="1109.6" x2="302.6" y2="1109.6" stroke="#000" stroke-width="1.4"/><line x1="280.6" y1="1144.6" x2="302.6" y2="1144.6" stroke="#000" stroke-width="1.4"/><circle cx="308.4" cy="1141.5" r="9.3" fill="#FA6E6E" stroke="#000" stroke-width="2.3"/><line x1="308.4" y1="1122.5" x2="308.4" y2="1132.2" stroke="#000" stroke-width="1.4"/><line x1="308.4" y1="1150.8" x2="308.4" y2="1160.5" stroke="#000" stroke-width="1.4"/><line x1="297.4" y1="1122.5" x2="319.4" y2="1122.5" stroke="#000" stroke-width="1.4"/><line x1="297.4" y1="1160.5" x2="319.4" y2="1160.5" stroke="#000" stroke-width="1.4"/><circle cx="315.1" cy="1135.5" r="9.3" fill="#FA6E6E" stroke="#000" stroke-width="2.3"/><line x1="315.1" y1="1118.2" x2="315.1" y2="1126.2" stroke="#000" stroke-width="1.4"/><line x1="315.1" y1="1144.8" x2="315.1" y2="1152.5" stroke="#000" stroke-width="1.4"/><line x1="304.1" y1="1118.2" x2="326.1" y2="1118.2" stroke="#000" stroke-width="1.4"/><line x1="304.1" y1="1152.5" x2="326.1" y2="1152.5" stroke="#000" stroke-width="1.4"/><circle cx="342.3" cy="1145.4" r="9.3" fill="#FA6E6E" stroke="#000" stroke-width="2.3"/><line x1="342.3" y1="1127.4" x2="342.3" y2="1136.1" stroke="#000" stroke-width="1.4"/><line x1="342.3" y1="1154.7" x2="342.3" y2="1162.4" stroke="#000" stroke-width="1.4"/><line x1="331.3" y1="1127.4" x2="353.3" y2="1127.4" stroke="#000" stroke-width="1.4"/><line x1="331.3" y1="1162.4" x2="353.3" y2="1162.4" stroke="#000" stroke-width="1.4"/><circle cx="358.8" cy="1150.7" r="9.3" fill="#FA6E6E" stroke="#000" stroke-width="2.3"/><line x1="358.8" y1="1136.3" x2="358.8" y2="1141.4" stroke="#000" stroke-width="1.4"/><line x1="358.8" y1="1160" x2="358.8" y2="1164.7" stroke="#000" stroke-width="1.4"/><line x1="347.8" y1="1136.3" x2="369.8" y2="1136.3" stroke="#000" stroke-width="1.4"/><line x1="347.8" y1="1164.7" x2="369.8" y2="1164.7" stroke="#000" stroke-width="1.4"/><circle cx="375.5" cy="1163.1" r="9.3" fill="#FA6E6E" stroke="#000" stroke-width="2.3"/><line x1="375.5" y1="1148.8" x2="375.5" y2="1153.8" stroke="#000" stroke-width="1.4"/><line x1="375.5" y1="1172.4" x2="375.5" y2="1176.5" stroke="#000" stroke-width="1.4"/><line x1="364.5" y1="1148.8" x2="386.5" y2="1148.8" stroke="#000" stroke-width="1.4"/><line x1="364.5" y1="1176.5" x2="386.5" y2="1176.5" stroke="#000" stroke-width="1.4"/><circle cx="408.6" cy="1201" r="9.3" fill="#FA6E6E" stroke="#000" stroke-width="2.3"/><line x1="397.6" y1="1192" x2="419.6" y2="1192" stroke="#000" stroke-width="1.4"/><line x1="397.6" y1="1210.5" x2="419.6" y2="1210.5" stroke="#000" stroke-width="1.4"/><circle cx="425.8" cy="1224.4" r="9.3" fill="#FA6E6E" stroke="#000" stroke-width="2.3"/><line x1="414.8" y1="1215.8" x2="436.8" y2="1215.8" stroke="#000" stroke-width="1.4"/><line x1="414.8" y1="1233.4" x2="436.8" y2="1233.4" stroke="#000" stroke-width="1.4"/><circle cx="442.5" cy="1241.2" r="9.3" fill="#FA6E6E" stroke="#000" stroke-width="2.3"/><line x1="431.5" y1="1234.2" x2="453.5" y2="1234.2" stroke="#000" stroke-width="1.4"/><line x1="431.5" y1="1248.2" x2="453.5" y2="1248.2" stroke="#000" stroke-width="1.4"/><circle cx="458.8" cy="1268.4" r="9.3" fill="#FA6E6E" stroke="#000" stroke-width="2.3"/><line x1="458.8" y1="1259.1" x2="458.8" y2="1277.7" stroke="#000" stroke-width="1.4"/><line x1="447.8" y1="1262.9" x2="469.8" y2="1262.9" stroke="#000" stroke-width="1.4"/><line x1="447.8" y1="1273.9" x2="469.8" y2="1273.9" stroke="#000" stroke-width="1.4"/><circle cx="458.8" cy="1282.3" r="9.3" fill="#FA6E6E" stroke="#000" stroke-width="2.3"/><line x1="458.8" y1="1273" x2="458.8" y2="1291.6" stroke="#000" stroke-width="1.4"/><line x1="447.8" y1="1276.8" x2="469.8" y2="1276.8" stroke="#000" stroke-width="1.4"/><line x1="447.8" y1="1287.8" x2="469.8" y2="1287.8" stroke="#000" stroke-width="1.4"/><circle cx="475.7" cy="1296.6" r="9.3" fill="#FA6E6E" stroke="#000" stroke-width="2.3"/><line x1="475.7" y1="1287.3" x2="475.7" y2="1305.9" stroke="#000" stroke-width="1.4"/><line x1="464.7" y1="1291.6" x2="486.7" y2="1291.6" stroke="#000" stroke-width="1.4"/><line x1="464.7" y1="1301.6" x2="486.7" y2="1301.6" stroke="#000" stroke-width="1.4"/><circle cx="494.9" cy="1334.9" r="9.3" fill="#FA6E6E" stroke="#000" stroke-width="2.3"/><line x1="494.9" y1="1325.6" x2="494.9" y2="1344.2" stroke="#000" stroke-width="1.4"/><line x1="483.9" y1="1329.9" x2="505.9" y2="1329.9" stroke="#000" stroke-width="1.4"/><line x1="483.9" y1="1339.9" x2="505.9" y2="1339.9" stroke="#000" stroke-width="1.4"/><circle cx="509.8" cy="1339.8" r="9.3" fill="#FA6E6E" stroke="#000" stroke-width="2.3"/><line x1="509.8" y1="1330.5" x2="509.8" y2="1349.1" stroke="#000" stroke-width="1.4"/><line x1="498.8" y1="1334.8" x2="520.8" y2="1334.8" stroke="#000" stroke-width="1.4"/><line x1="498.8" y1="1344.8" x2="520.8" y2="1344.8" stroke="#000" stroke-width="1.4"/><circle cx="526.2" cy="1358.3" r="9.3" fill="#FA6E6E" stroke="#000" stroke-width="2.3"/><line x1="526.2" y1="1349" x2="526.2" y2="1367.6" stroke="#000" stroke-width="1.4"/><line x1="515.2" y1="1353.3" x2="537.2" y2="1353.3" stroke="#000" stroke-width="1.4"/><line x1="515.2" y1="1363.3" x2="537.2" y2="1363.3" stroke="#000" stroke-width="1.4"/><circle cx="549.6" cy="1371.7" r="9.3" fill="#FA6E6E" stroke="#000" stroke-width="2.3"/><line x1="549.6" y1="1362.4" x2="549.6" y2="1381" stroke="#000" stroke-width="1.4"/><circle cx="582" cy="1371.7" r="9.3" fill="#FA6E6E" stroke="#000" stroke-width="2.3"/><line x1="582" y1="1362.4" x2="582" y2="1381" stroke="#000" stroke-width="1.4"/><circle cx="614.3" cy="1371.8" r="9.3" fill="#FA6E6E" stroke="#000" stroke-width="2.3"/><line x1="614.3" y1="1362.5" x2="614.3" y2="1381.1" stroke="#000" stroke-width="1.4"/><circle cx="679.5" cy="1371.7" r="9.3" fill="#FA6E6E" stroke="#000" stroke-width="2.3"/><line x1="679.5" y1="1362.4" x2="679.5" y2="1381" stroke="#000" stroke-width="1.4"/><circle cx="710.8" cy="1371.7" r="9.3" fill="#FA6E6E" stroke="#000" stroke-width="2.3"/><line x1="710.8" y1="1362.4" x2="710.8" y2="1381" stroke="#000" stroke-width="1.4"/>
<path d="M133.8 1133.53 L151.94 1133.53 L171.17 1133.53 L190.4 1133.54 L209.64 1133.55 L228.87 1133.68 L248.11 1134.2 L251.96 1134.38 L255.8 1134.6 L259.64 1134.86 L263.48 1135.17 L267.32 1135.51 L271.16 1135.91 L275.01 1136.36 L278.85 1136.86 L282.69 1137.42 L286.53 1138.04 L290.37 1138.73 L294.21 1139.48 L298.05 1140.3 L301.9 1141.19 L305.74 1142.15 L309.58 1143.19 L313.42 1144.31 L317.26 1145.5 L321.1 1146.77 L324.94 1148.13 L328.79 1149.57 L332.63 1151.1 L336.47 1152.71 L340.31 1154.42 L344.15 1156.21 L347.99 1158.09 L351.83 1160.07 L355.68 1162.15 L359.52 1164.32 L363.36 1166.58 L367.2 1168.95 L371.04 1171.42 L374.88 1174 L378.72 1176.68 L382.57 1179.46 L386.41 1182.36 L390.25 1185.37 L394.09 1188.49 L397.93 1191.73 L401.77 1195.09 L405.61 1198.57 L409.46 1202.17 L413.3 1205.91 L417.14 1209.77 L420.98 1213.77 L424.82 1217.91 L428.66 1222.19 L432.5 1226.61 L436.35 1231.19 L440.19 1235.92 L444.03 1240.8 L447.87 1245.86 L451.71 1251.08 L455.55 1256.47 L459.39 1262.05 L463.24 1267.81 L467.08 1273.77 L470.92 1279.92 L474.76 1286.27 L478.6 1292.84 L482.44 1299.62 L486.28 1306.63 L490.13 1313.87 L493.97 1321.34 L497.81 1329.06 L501.65 1337.01 L505.49 1345.21 L509.33 1353.64 L513.17 1362.27 L517.02 1371.01 L517.4 1371.85 L747.22 1371.85" fill="none" stroke="#000" stroke-width="2.1"/>
<line x1="131" y1="18" x2="749.8" y2="18" stroke="#000" stroke-width="3.6"/><line x1="228.88" y1="18" x2="228.88" y2="28.7" stroke="#000" stroke-width="3.6"/><line x1="325.05" y1="18" x2="325.05" y2="39.7" stroke="#000" stroke-width="3.6"/><line x1="421.22" y1="18" x2="421.22" y2="28.7" stroke="#000" stroke-width="3.6"/><line x1="517.4" y1="18" x2="517.4" y2="39.7" stroke="#000" stroke-width="3.6"/><line x1="613.58" y1="18" x2="613.58" y2="28.7" stroke="#000" stroke-width="3.6"/><line x1="709.75" y1="18" x2="709.75" y2="39.7" stroke="#000" stroke-width="3.6"/><line x1="131" y1="363.2" x2="749.8" y2="363.2" stroke="#000" stroke-width="3.6"/><line x1="228.88" y1="352.5" x2="228.88" y2="373.9" stroke="#000" stroke-width="3.6"/><line x1="325.05" y1="341.5" x2="325.05" y2="384.9" stroke="#000" stroke-width="3.6"/><line x1="421.22" y1="352.5" x2="421.22" y2="373.9" stroke="#000" stroke-width="3.6"/><line x1="517.4" y1="341.5" x2="517.4" y2="384.9" stroke="#000" stroke-width="3.6"/><line x1="613.58" y1="352.5" x2="613.58" y2="373.9" stroke="#000" stroke-width="3.6"/><line x1="709.75" y1="341.5" x2="709.75" y2="384.9" stroke="#000" stroke-width="3.6"/><line x1="131" y1="709.7" x2="749.8" y2="709.7" stroke="#000" stroke-width="3.6"/><line x1="228.88" y1="699" x2="228.88" y2="720.4" stroke="#000" stroke-width="3.6"/><line x1="325.05" y1="688" x2="325.05" y2="731.4" stroke="#000" stroke-width="3.6"/><line x1="421.22" y1="699" x2="421.22" y2="720.4" stroke="#000" stroke-width="3.6"/><line x1="517.4" y1="688" x2="517.4" y2="731.4" stroke="#000" stroke-width="3.6"/><line x1="613.58" y1="699" x2="613.58" y2="720.4" stroke="#000" stroke-width="3.6"/><line x1="709.75" y1="688" x2="709.75" y2="731.4" stroke="#000" stroke-width="3.6"/><line x1="131" y1="1056.8" x2="749.8" y2="1056.8" stroke="#000" stroke-width="3.6"/><line x1="228.88" y1="1046.1" x2="228.88" y2="1067.5" stroke="#000" stroke-width="3.6"/><line x1="325.05" y1="1035.1" x2="325.05" y2="1078.5" stroke="#000" stroke-width="3.6"/><line x1="421.22" y1="1046.1" x2="421.22" y2="1067.5" stroke="#000" stroke-width="3.6"/><line x1="517.4" y1="1035.1" x2="517.4" y2="1078.5" stroke="#000" stroke-width="3.6"/><line x1="613.58" y1="1046.1" x2="613.58" y2="1067.5" stroke="#000" stroke-width="3.6"/><line x1="709.75" y1="1035.1" x2="709.75" y2="1078.5" stroke="#000" stroke-width="3.6"/><line x1="131" y1="1403" x2="749.8" y2="1403" stroke="#000" stroke-width="3.6"/><line x1="228.88" y1="1392.3" x2="228.88" y2="1403" stroke="#000" stroke-width="3.6"/><line x1="325.05" y1="1381.3" x2="325.05" y2="1403" stroke="#000" stroke-width="3.6"/><line x1="421.22" y1="1392.3" x2="421.22" y2="1403" stroke="#000" stroke-width="3.6"/><line x1="517.4" y1="1381.3" x2="517.4" y2="1403" stroke="#000" stroke-width="3.6"/><line x1="613.58" y1="1392.3" x2="613.58" y2="1403" stroke="#000" stroke-width="3.6"/><line x1="709.75" y1="1381.3" x2="709.75" y2="1403" stroke="#000" stroke-width="3.6"/><line x1="132.8" y1="16.2" x2="132.8" y2="1404.8" stroke="#000" stroke-width="3.6"/><line x1="748" y1="16.2" x2="748" y2="1404.8" stroke="#000" stroke-width="3.6"/><line x1="132.8" y1="339.2" x2="154.5" y2="339.2" stroke="#000" stroke-width="3.6"/><line x1="748" y1="339.2" x2="726.3" y2="339.2" stroke="#000" stroke-width="3.6"/><line x1="132.8" y1="258.87" x2="154.5" y2="258.87" stroke="#000" stroke-width="3.6"/><line x1="748" y1="258.87" x2="726.3" y2="258.87" stroke="#000" stroke-width="3.6"/><line x1="132.8" y1="178.54" x2="154.5" y2="178.54" stroke="#000" stroke-width="3.6"/><line x1="748" y1="178.54" x2="726.3" y2="178.54" stroke="#000" stroke-width="3.6"/><line x1="132.8" y1="98.21" x2="154.5" y2="98.21" stroke="#000" stroke-width="3.6"/><line x1="748" y1="98.21" x2="726.3" y2="98.21" stroke="#000" stroke-width="3.6"/><line x1="132.8" y1="17.88" x2="154.5" y2="17.88" stroke="#000" stroke-width="3.6"/><line x1="748" y1="17.88" x2="726.3" y2="17.88" stroke="#000" stroke-width="3.6"/><line x1="132.8" y1="299.03" x2="143.5" y2="299.03" stroke="#000" stroke-width="3.6"/><line x1="748" y1="299.03" x2="737.3" y2="299.03" stroke="#000" stroke-width="3.6"/><line x1="132.8" y1="218.7" x2="143.5" y2="218.7" stroke="#000" stroke-width="3.6"/><line x1="748" y1="218.7" x2="737.3" y2="218.7" stroke="#000" stroke-width="3.6"/><line x1="132.8" y1="138.38" x2="143.5" y2="138.38" stroke="#000" stroke-width="3.6"/><line x1="748" y1="138.38" x2="737.3" y2="138.38" stroke="#000" stroke-width="3.6"/><line x1="132.8" y1="58.05" x2="143.5" y2="58.05" stroke="#000" stroke-width="3.6"/><line x1="748" y1="58.05" x2="737.3" y2="58.05" stroke="#000" stroke-width="3.6"/><line x1="132.8" y1="652" x2="154.5" y2="652" stroke="#000" stroke-width="3.6"/><line x1="748" y1="652" x2="726.3" y2="652" stroke="#000" stroke-width="3.6"/><line x1="132.8" y1="536.7" x2="154.5" y2="536.7" stroke="#000" stroke-width="3.6"/><line x1="748" y1="536.7" x2="726.3" y2="536.7" stroke="#000" stroke-width="3.6"/><line x1="132.8" y1="421.4" x2="154.5" y2="421.4" stroke="#000" stroke-width="3.6"/><line x1="748" y1="421.4" x2="726.3" y2="421.4" stroke="#000" stroke-width="3.6"/><line x1="132.8" y1="709.65" x2="143.5" y2="709.65" stroke="#000" stroke-width="3.6"/><line x1="748" y1="709.65" x2="737.3" y2="709.65" stroke="#000" stroke-width="3.6"/><line x1="132.8" y1="594.35" x2="143.5" y2="594.35" stroke="#000" stroke-width="3.6"/><line x1="748" y1="594.35" x2="737.3" y2="594.35" stroke="#000" stroke-width="3.6"/><line x1="132.8" y1="479.05" x2="143.5" y2="479.05" stroke="#000" stroke-width="3.6"/><line x1="748" y1="479.05" x2="737.3" y2="479.05" stroke="#000" stroke-width="3.6"/><line x1="132.8" y1="363.75" x2="143.5" y2="363.75" stroke="#000" stroke-width="3.6"/><line x1="748" y1="363.75" x2="737.3" y2="363.75" stroke="#000" stroke-width="3.6"/><line x1="132.8" y1="1011.7" x2="154.5" y2="1011.7" stroke="#000" stroke-width="3.6"/><line x1="748" y1="1011.7" x2="726.3" y2="1011.7" stroke="#000" stroke-width="3.6"/><line x1="132.8" y1="921.52" x2="154.5" y2="921.52" stroke="#000" stroke-width="3.6"/><line x1="748" y1="921.52" x2="726.3" y2="921.52" stroke="#000" stroke-width="3.6"/><line x1="132.8" y1="831.34" x2="154.5" y2="831.34" stroke="#000" stroke-width="3.6"/><line x1="748" y1="831.34" x2="726.3" y2="831.34" stroke="#000" stroke-width="3.6"/><line x1="132.8" y1="741.16" x2="154.5" y2="741.16" stroke="#000" stroke-width="3.6"/><line x1="748" y1="741.16" x2="726.3" y2="741.16" stroke="#000" stroke-width="3.6"/><line x1="132.8" y1="1056.79" x2="143.5" y2="1056.79" stroke="#000" stroke-width="3.6"/><line x1="748" y1="1056.79" x2="737.3" y2="1056.79" stroke="#000" stroke-width="3.6"/><line x1="132.8" y1="966.61" x2="143.5" y2="966.61" stroke="#000" stroke-width="3.6"/><line x1="748" y1="966.61" x2="737.3" y2="966.61" stroke="#000" stroke-width="3.6"/><line x1="132.8" y1="876.43" x2="143.5" y2="876.43" stroke="#000" stroke-width="3.6"/><line x1="748" y1="876.43" x2="737.3" y2="876.43" stroke="#000" stroke-width="3.6"/><line x1="132.8" y1="786.25" x2="143.5" y2="786.25" stroke="#000" stroke-width="3.6"/><line x1="748" y1="786.25" x2="737.3" y2="786.25" stroke="#000" stroke-width="3.6"/><line x1="132.8" y1="1371.85" x2="154.5" y2="1371.85" stroke="#000" stroke-width="3.6"/><line x1="748" y1="1371.85" x2="726.3" y2="1371.85" stroke="#000" stroke-width="3.6"/><line x1="132.8" y1="1277.53" x2="154.5" y2="1277.53" stroke="#000" stroke-width="3.6"/><line x1="748" y1="1277.53" x2="726.3" y2="1277.53" stroke="#000" stroke-width="3.6"/><line x1="132.8" y1="1183.21" x2="154.5" y2="1183.21" stroke="#000" stroke-width="3.6"/><line x1="748" y1="1183.21" x2="726.3" y2="1183.21" stroke="#000" stroke-width="3.6"/><line x1="132.8" y1="1088.89" x2="154.5" y2="1088.89" stroke="#000" stroke-width="3.6"/><line x1="748" y1="1088.89" x2="726.3" y2="1088.89" stroke="#000" stroke-width="3.6"/><line x1="132.8" y1="1324.69" x2="143.5" y2="1324.69" stroke="#000" stroke-width="3.6"/><line x1="748" y1="1324.69" x2="737.3" y2="1324.69" stroke="#000" stroke-width="3.6"/><line x1="132.8" y1="1230.37" x2="143.5" y2="1230.37" stroke="#000" stroke-width="3.6"/><line x1="748" y1="1230.37" x2="737.3" y2="1230.37" stroke="#000" stroke-width="3.6"/><line x1="132.8" y1="1136.05" x2="143.5" y2="1136.05" stroke="#000" stroke-width="3.6"/><line x1="748" y1="1136.05" x2="737.3" y2="1136.05" stroke="#000" stroke-width="3.6"/>
<text x="84.81" y="352.4" style="font-family:'Liberation Sans',sans-serif;font-size:43.5px">0</text><text x="60.63" y="272.07" style="font-family:'Liberation Sans',sans-serif;font-size:43.5px">&#8199;0</text><path d="M763 0L583 0L583 1147Q518 1085 412.5 1023Q307 961 223 930L223 1104Q374 1175 487 1276Q600 1377 647 1472L763 1472Z" transform="translate(60.63 272.07) scale(0.02124 -0.02124)"/><text x="60.63" y="191.74" style="font-family:'Liberation Sans',sans-serif;font-size:43.5px">20</text><text x="60.63" y="111.41" style="font-family:'Liberation Sans',sans-serif;font-size:43.5px">30</text><text x="60.63" y="31.08" style="font-family:'Liberation Sans',sans-serif;font-size:43.5px">40</text><text x="84.81" y="665.2" style="font-family:'Liberation Sans',sans-serif;font-size:43.5px">0</text><text x="84.81" y="549.9" style="font-family:'Liberation Sans',sans-serif;font-size:43.5px">5</text><text x="60.63" y="434.6" style="font-family:'Liberation Sans',sans-serif;font-size:43.5px">&#8199;0</text><path d="M763 0L583 0L583 1147Q518 1085 412.5 1023Q307 961 223 930L223 1104Q374 1175 487 1276Q600 1377 647 1472L763 1472Z" transform="translate(60.63 434.6) scale(0.02124 -0.02124)"/><text x="84.81" y="1024.9" style="font-family:'Liberation Sans',sans-serif;font-size:43.5px">0</text><text x="84.81" y="934.72" style="font-family:'Liberation Sans',sans-serif;font-size:43.5px">3</text><text x="84.81" y="844.54" style="font-family:'Liberation Sans',sans-serif;font-size:43.5px">6</text><text x="84.81" y="754.36" style="font-family:'Liberation Sans',sans-serif;font-size:43.5px">9</text><text x="84.81" y="1385.05" style="font-family:'Liberation Sans',sans-serif;font-size:43.5px">0</text><text x="60.63" y="1290.73" style="font-family:'Liberation Sans',sans-serif;font-size:43.5px">30</text><text x="60.63" y="1196.41" style="font-family:'Liberation Sans',sans-serif;font-size:43.5px">60</text><text x="60.63" y="1102.09" style="font-family:'Liberation Sans',sans-serif;font-size:43.5px">90</text><text x="102.47" y="1461" style="font-family:'Liberation Sans',sans-serif;font-size:43.5px">0.0</text><text x="294.82" y="1461" style="font-family:'Liberation Sans',sans-serif;font-size:43.5px">0.5</text><text x="487.17" y="1461" style="font-family:'Liberation Sans',sans-serif;font-size:43.5px">&#8199;.0</text><path d="M763 0L583 0L583 1147Q518 1085 412.5 1023Q307 961 223 930L223 1104Q374 1175 487 1276Q600 1377 647 1472L763 1472Z" transform="translate(487.17 1461) scale(0.02124 -0.02124)"/><text x="679.52" y="1461" style="font-family:'Liberation Sans',sans-serif;font-size:43.5px">&#8199;.5</text><path d="M763 0L583 0L583 1147Q518 1085 412.5 1023Q307 961 223 930L223 1104Q374 1175 487 1276Q600 1377 647 1472L763 1472Z" transform="translate(679.52 1461) scale(0.02124 -0.02124)"/>
<text x="392.6" y="1507.2" style="font-family:'Liberation Sans',sans-serif;font-size:54.5px" stroke="#000" stroke-width="0.6"><tspan font-style="italic">T</tspan><tspan dx="-1.5">/</tspan><tspan font-style="italic" dx="-0.5">T</tspan><tspan font-size="36px" dy="15" dx="-1.5" stroke-width="0.3">c</tspan></text>
<g transform="translate(48.1 823) rotate(-90)"><path d="M763 0L583 0L583 1147Q518 1085 412.5 1023Q307 961 223 930L223 1104Q374 1175 487 1276Q600 1377 647 1472L763 1472Z" transform="translate(0 0) scale(0.02661 -0.02661)"/><text x="30.3" y="0" style="font-family:'Liberation Sans',sans-serif;font-size:54.5px">/</text><text x="46" y="0" style="font-family:'Liberation Serif',serif;font-size:56px">&#955;</text><text x="74.5" y="-21.5" style="font-family:'Liberation Sans',sans-serif;font-size:36px">2</text><text x="74.5" y="14.5" style="font-family:'Liberation Sans',sans-serif;font-size:36.5px">eff</text><text x="129.5" y="0" style="font-family:'Liberation Sans',sans-serif;font-size:54.5px">(</text><text x="0" y="0" transform="translate(146.5 0) scale(1.18 1)" style="font-family:'Liberation Serif',serif;font-size:54.5px">&#956;</text><text x="178" y="0" style="font-family:'Liberation Sans',sans-serif;font-size:54.5px">m</text><text x="0" y="0" transform="translate(223.5 -22) scale(1.25 1)" style="font-family:'Liberation Sans',sans-serif;font-size:36px">-</text><text x="236" y="-22" style="font-family:'Liberation Sans',sans-serif;font-size:36px">2</text><text x="257" y="0" style="font-family:'Liberation Sans',sans-serif;font-size:54.5px">)</text></g>
<text x="659" y="66" style="font-family:'Liberation Sans',sans-serif;font-weight:bold;font-size:50px">a</text><text x="658" y="409.7" style="font-family:'Liberation Sans',sans-serif;font-weight:bold;font-size:52px">b</text><text x="659" y="758" style="font-family:'Liberation Sans',sans-serif;font-weight:bold;font-size:50px">c</text><text x="656.5" y="1111.7" style="font-family:'Liberation Sans',sans-serif;font-weight:bold;font-size:53px">d</text><text x="199" y="338.4" style="font-family:'Liberation Sans',sans-serif;font-weight:bold;font-size:42px">hcp-Mg</text><text x="0" y="0" transform="translate(201.5 678) scale(1.2 1)" style="font-family:'Liberation Serif',serif;font-size:42px">&#945;</text><text x="228" y="678" style="font-family:'Liberation Sans',sans-serif;font-weight:bold;font-size:42.5px">-Mn</text><text x="0" y="0" transform="translate(205.2 1033.5) scale(1.15 1)" style="font-family:'Liberation Serif',serif;font-size:42px">&#946;</text><text x="229.8" y="1033.5" style="font-family:'Liberation Sans',sans-serif;font-weight:bold;font-size:42.5px">-CrFe</text><text x="197.5" y="1382.3" style="font-family:'Liberation Sans',sans-serif;font-weight:bold;font-size:43px">bcc-W</text><text x="611" y="117.5" style="font-family:'Liberation Sans',sans-serif;font-size:38px"><tspan font-style="italic">x</tspan> <tspan stroke="#000" stroke-width="0.7">=</tspan></text><circle cx="571.4" cy="151.3" r="9.3" fill="#4DB9FA" stroke="#000" stroke-width="2.5"/><text x="612" y="163.5" style="font-family:'Liberation Sans',sans-serif;font-size:38px">0.00</text><rect x="563.6" y="189.2" width="16.6" height="16.6" fill="#4DB9FA" stroke="#000" stroke-width="2.5"/><text x="612" y="210.8" style="font-family:'Liberation Sans',sans-serif;font-size:38px">0.12</text><path d="M571.5 232.3L582 250.8L561 250.8Z" fill="#4DB9FA" stroke="#000" stroke-width="2.5"/><text x="612" y="257" style="font-family:'Liberation Sans',sans-serif;font-size:38px">0.23</text><text x="611" y="476.5" style="font-family:'Liberation Sans',sans-serif;font-size:38px"><tspan font-style="italic">x</tspan> <tspan stroke="#000" stroke-width="0.7">=</tspan></text><circle cx="569.3" cy="510.2" r="9" fill="#EAC46A" stroke="#000" stroke-width="2.4"/><text x="612" y="522.5" style="font-family:'Liberation Sans',sans-serif;font-size:38px">0.23(A)</text><rect x="561.75" y="548.45" width="16.5" height="16.5" fill="#EAC46A" stroke="#000" stroke-width="2.4"/><text x="612" y="569.5" style="font-family:'Liberation Sans',sans-serif;font-size:38px">0.23(S)</text><text x="611" y="888" style="font-family:'Liberation Sans',sans-serif;font-size:38px"><tspan font-style="italic">x</tspan> <tspan stroke="#000" stroke-width="0.7">=</tspan></text><circle cx="569.3" cy="922.8" r="8.9" fill="#DEFC8C" stroke="#000" stroke-width="2.4"/><text x="612" y="935.4" style="font-family:'Liberation Sans',sans-serif;font-size:38px">0.45</text><text x="611" y="1230.2" style="font-family:'Liberation Sans',sans-serif;font-size:38px"><tspan font-style="italic">x</tspan> <tspan stroke="#000" stroke-width="0.7">=</tspan></text><circle cx="569.3" cy="1264.7" r="8.9" fill="#FA6E6E" stroke="#000" stroke-width="2.4"/><text x="612" y="1276.2" style="font-family:'Liberation Sans',sans-serif;font-size:38px">0.60</text>
</svg>
</body></html>
